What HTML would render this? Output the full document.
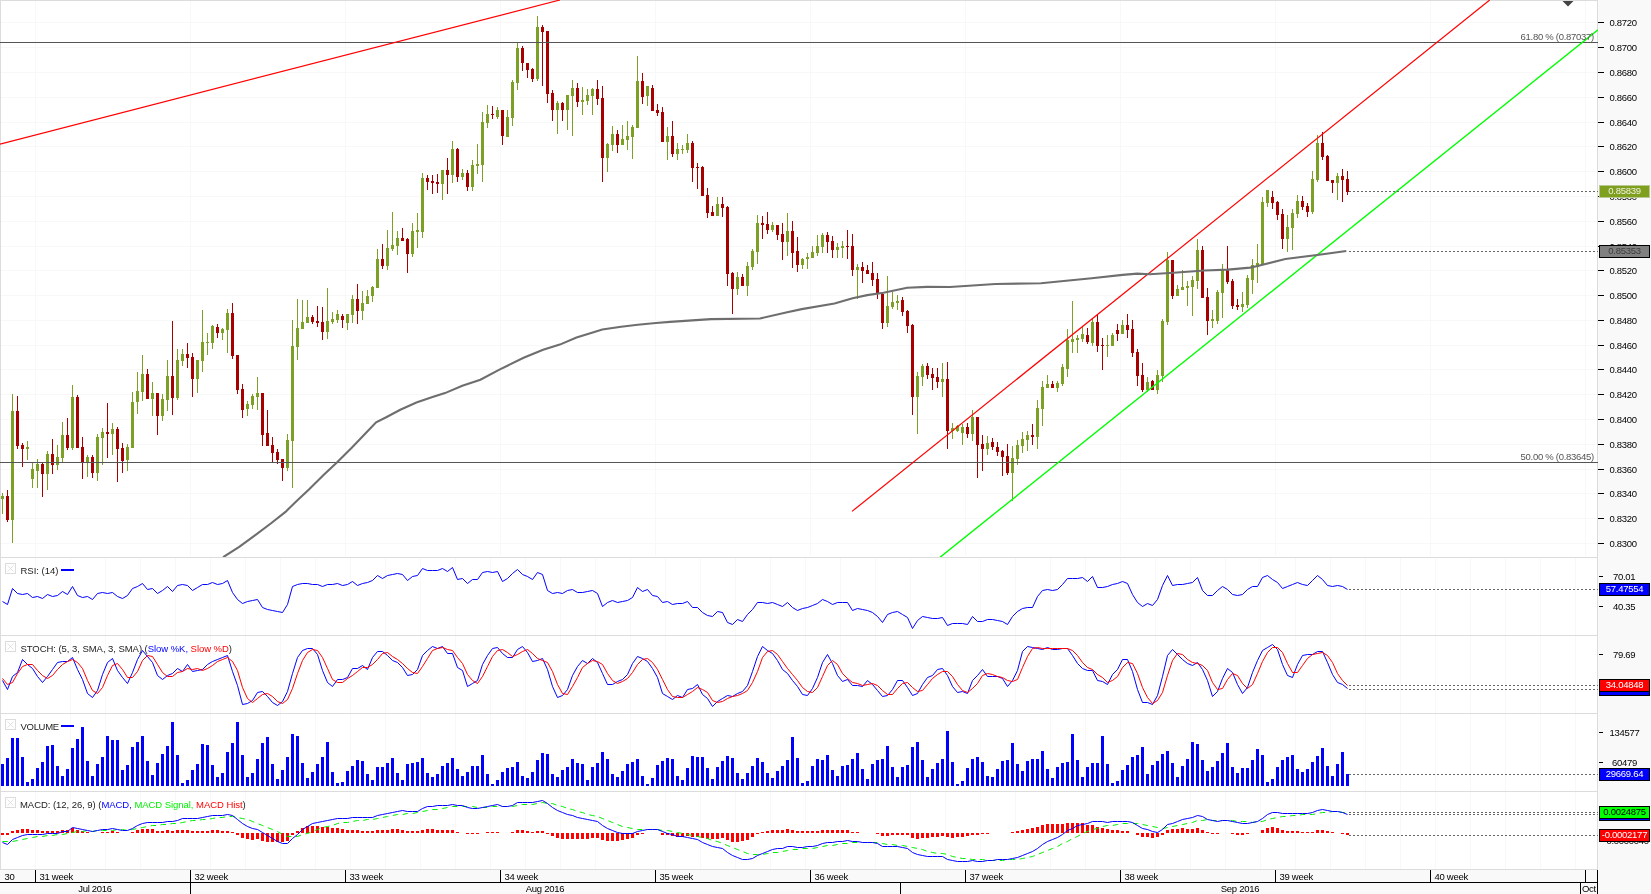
<!DOCTYPE html>
<html><head><meta charset="utf-8"><title>chart</title>
<style>
html,body{margin:0;padding:0;background:#fff;}
body{width:1651px;height:894px;position:relative;overflow:hidden;font-family:"Liberation Sans",sans-serif;font-size:9px;}
.t{position:absolute;white-space:nowrap;line-height:10px;font-size:9.5px;letter-spacing:-0.28px;}
#txt{position:absolute;left:0;top:0;width:1651px;height:894px;will-change:transform;}
.b{position:absolute;left:1599px;width:51px;height:11px;line-height:10px;font-size:9.5px;letter-spacing:-0.28px;text-align:center;box-sizing:border-box;overflow:hidden;white-space:nowrap;height:13px;}
</style></head><body>
<svg width="1651" height="894" viewBox="0 0 1651 894" style="position:absolute;left:0;top:0">
<rect x="0" y="0" width="1651" height="894" fill="#ffffff"/>
<rect x="1598" y="0" width="53" height="894" fill="#f9f9f9"/>
<rect x="0" y="870" width="1598" height="24" fill="#f9f9f9"/>
<g stroke="#f8f8f8" stroke-width="1" shape-rendering="crispEdges"><line x1="0" y1="22.5" x2="1598" y2="22.5"/><line x1="0" y1="47.5" x2="1598" y2="47.5"/><line x1="0" y1="72.5" x2="1598" y2="72.5"/><line x1="0" y1="97.5" x2="1598" y2="97.5"/><line x1="0" y1="122.5" x2="1598" y2="122.5"/><line x1="0" y1="146.5" x2="1598" y2="146.5"/><line x1="0" y1="171.5" x2="1598" y2="171.5"/><line x1="0" y1="196.5" x2="1598" y2="196.5"/><line x1="0" y1="221.5" x2="1598" y2="221.5"/><line x1="0" y1="246.5" x2="1598" y2="246.5"/><line x1="0" y1="270.5" x2="1598" y2="270.5"/><line x1="0" y1="295.5" x2="1598" y2="295.5"/><line x1="0" y1="320.5" x2="1598" y2="320.5"/><line x1="0" y1="345.5" x2="1598" y2="345.5"/><line x1="0" y1="369.5" x2="1598" y2="369.5"/><line x1="0" y1="394.5" x2="1598" y2="394.5"/><line x1="0" y1="419.5" x2="1598" y2="419.5"/><line x1="0" y1="444.5" x2="1598" y2="444.5"/><line x1="0" y1="469.5" x2="1598" y2="469.5"/><line x1="0" y1="493.5" x2="1598" y2="493.5"/><line x1="0" y1="518.5" x2="1598" y2="518.5"/><line x1="0" y1="543.5" x2="1598" y2="543.5"/><line x1="35.5" y1="0" x2="35.5" y2="556"/><line x1="190.5" y1="0" x2="190.5" y2="556"/><line x1="345.5" y1="0" x2="345.5" y2="556"/><line x1="500.5" y1="0" x2="500.5" y2="556"/><line x1="655.5" y1="0" x2="655.5" y2="556"/><line x1="810.5" y1="0" x2="810.5" y2="556"/><line x1="965.5" y1="0" x2="965.5" y2="556"/><line x1="1120.5" y1="0" x2="1120.5" y2="556"/><line x1="1275.5" y1="0" x2="1275.5" y2="556"/><line x1="1430.5" y1="0" x2="1430.5" y2="556"/><line x1="1585.5" y1="0" x2="1585.5" y2="556"/><line x1="35.5" y1="558" x2="35.5" y2="869"/><line x1="70.5" y1="558" x2="70.5" y2="869"/><line x1="105.5" y1="558" x2="105.5" y2="869"/><line x1="140.5" y1="558" x2="140.5" y2="869"/><line x1="175.5" y1="558" x2="175.5" y2="869"/><line x1="210.5" y1="558" x2="210.5" y2="869"/><line x1="245.5" y1="558" x2="245.5" y2="869"/><line x1="280.5" y1="558" x2="280.5" y2="869"/><line x1="315.5" y1="558" x2="315.5" y2="869"/><line x1="350.5" y1="558" x2="350.5" y2="869"/><line x1="385.5" y1="558" x2="385.5" y2="869"/><line x1="420.5" y1="558" x2="420.5" y2="869"/><line x1="455.5" y1="558" x2="455.5" y2="869"/><line x1="490.5" y1="558" x2="490.5" y2="869"/><line x1="525.5" y1="558" x2="525.5" y2="869"/><line x1="560.5" y1="558" x2="560.5" y2="869"/><line x1="595.5" y1="558" x2="595.5" y2="869"/><line x1="630.5" y1="558" x2="630.5" y2="869"/><line x1="665.5" y1="558" x2="665.5" y2="869"/><line x1="700.5" y1="558" x2="700.5" y2="869"/><line x1="735.5" y1="558" x2="735.5" y2="869"/><line x1="770.5" y1="558" x2="770.5" y2="869"/><line x1="805.5" y1="558" x2="805.5" y2="869"/><line x1="840.5" y1="558" x2="840.5" y2="869"/><line x1="875.5" y1="558" x2="875.5" y2="869"/><line x1="910.5" y1="558" x2="910.5" y2="869"/><line x1="945.5" y1="558" x2="945.5" y2="869"/><line x1="980.5" y1="558" x2="980.5" y2="869"/><line x1="1015.5" y1="558" x2="1015.5" y2="869"/><line x1="1050.5" y1="558" x2="1050.5" y2="869"/><line x1="1085.5" y1="558" x2="1085.5" y2="869"/><line x1="1120.5" y1="558" x2="1120.5" y2="869"/><line x1="1155.5" y1="558" x2="1155.5" y2="869"/><line x1="1190.5" y1="558" x2="1190.5" y2="869"/><line x1="1225.5" y1="558" x2="1225.5" y2="869"/><line x1="1260.5" y1="558" x2="1260.5" y2="869"/><line x1="1295.5" y1="558" x2="1295.5" y2="869"/><line x1="1330.5" y1="558" x2="1330.5" y2="869"/><line x1="1365.5" y1="558" x2="1365.5" y2="869"/><line x1="1400.5" y1="558" x2="1400.5" y2="869"/><line x1="1435.5" y1="558" x2="1435.5" y2="869"/><line x1="1470.5" y1="558" x2="1470.5" y2="869"/><line x1="1505.5" y1="558" x2="1505.5" y2="869"/><line x1="1540.5" y1="558" x2="1540.5" y2="869"/><line x1="1575.5" y1="558" x2="1575.5" y2="869"/></g>
<g stroke="#dcdcdc" stroke-width="1" shape-rendering="crispEdges"><line x1="0" y1="0.5" x2="1598" y2="0.5"/><line x1="0" y1="557.5" x2="1598" y2="557.5"/><line x1="0" y1="635.5" x2="1598" y2="635.5"/><line x1="0" y1="713.5" x2="1598" y2="713.5"/><line x1="0" y1="791.5" x2="1598" y2="791.5"/><line x1="0" y1="869.5" x2="1598" y2="869.5"/><line x1="0.5" y1="0" x2="0.5" y2="870"/><line x1="1597.5" y1="0" x2="1597.5" y2="870"/></g>
<g shape-rendering="crispEdges"><rect x="2" y="493" width="1" height="21" fill="#7ca026"/>
<rect x="1" y="496" width="3" height="3" fill="#7ca026"/>
<rect x="7" y="490" width="1" height="32" fill="#a60000"/>
<rect x="6" y="496" width="3" height="24" fill="#a60000"/>
<rect x="12" y="394" width="1" height="149" fill="#7ca026"/>
<rect x="11" y="411" width="3" height="109" fill="#7ca026"/>
<rect x="17" y="396" width="1" height="53" fill="#a60000"/>
<rect x="16" y="411" width="3" height="35" fill="#a60000"/>
<rect x="22" y="443" width="1" height="24" fill="#a60000"/>
<rect x="21" y="445" width="3" height="4" fill="#a60000"/>
<rect x="27" y="441" width="1" height="19" fill="#7ca026"/>
<rect x="26" y="447" width="3" height="2" fill="#7ca026"/>
<rect x="32" y="463" width="1" height="25" fill="#7ca026"/>
<rect x="31" y="469" width="3" height="10" fill="#7ca026"/>
<rect x="37" y="459" width="1" height="29" fill="#7ca026"/>
<rect x="36" y="464" width="3" height="7" fill="#7ca026"/>
<rect x="42" y="463" width="1" height="34" fill="#a60000"/>
<rect x="41" y="464" width="3" height="10" fill="#a60000"/>
<rect x="47" y="451" width="1" height="39" fill="#7ca026"/>
<rect x="46" y="454" width="3" height="20" fill="#7ca026"/>
<rect x="52" y="439" width="1" height="35" fill="#a60000"/>
<rect x="51" y="454" width="3" height="11" fill="#a60000"/>
<rect x="57" y="445" width="1" height="25" fill="#7ca026"/>
<rect x="56" y="457" width="3" height="8" fill="#7ca026"/>
<rect x="62" y="422" width="1" height="40" fill="#7ca026"/>
<rect x="61" y="435" width="3" height="23" fill="#7ca026"/>
<rect x="67" y="418" width="1" height="32" fill="#a60000"/>
<rect x="66" y="435" width="3" height="13" fill="#a60000"/>
<rect x="72" y="385" width="1" height="65" fill="#7ca026"/>
<rect x="71" y="397" width="3" height="51" fill="#7ca026"/>
<rect x="77" y="395" width="1" height="53" fill="#a60000"/>
<rect x="76" y="397" width="3" height="51" fill="#a60000"/>
<rect x="82" y="437" width="1" height="42" fill="#a60000"/>
<rect x="81" y="447" width="3" height="15" fill="#a60000"/>
<rect x="87" y="455" width="1" height="22" fill="#7ca026"/>
<rect x="86" y="457" width="3" height="5" fill="#7ca026"/>
<rect x="92" y="455" width="1" height="23" fill="#a60000"/>
<rect x="91" y="457" width="3" height="16" fill="#a60000"/>
<rect x="97" y="434" width="1" height="47" fill="#7ca026"/>
<rect x="96" y="437" width="3" height="36" fill="#7ca026"/>
<rect x="102" y="428" width="1" height="37" fill="#7ca026"/>
<rect x="101" y="432" width="3" height="6" fill="#7ca026"/>
<rect x="107" y="403" width="1" height="55" fill="#a60000"/>
<rect x="106" y="432" width="3" height="2" fill="#a60000"/>
<rect x="112" y="423" width="1" height="32" fill="#7ca026"/>
<rect x="111" y="429" width="3" height="5" fill="#7ca026"/>
<rect x="117" y="427" width="1" height="55" fill="#a60000"/>
<rect x="116" y="429" width="3" height="20" fill="#a60000"/>
<rect x="122" y="443" width="1" height="30" fill="#a60000"/>
<rect x="121" y="448" width="3" height="13" fill="#a60000"/>
<rect x="127" y="444" width="1" height="27" fill="#7ca026"/>
<rect x="126" y="447" width="3" height="13" fill="#7ca026"/>
<rect x="132" y="392" width="1" height="56" fill="#7ca026"/>
<rect x="131" y="402" width="3" height="46" fill="#7ca026"/>
<rect x="137" y="372" width="1" height="42" fill="#7ca026"/>
<rect x="136" y="391" width="3" height="11" fill="#7ca026"/>
<rect x="142" y="355" width="1" height="46" fill="#7ca026"/>
<rect x="141" y="374" width="3" height="18" fill="#7ca026"/>
<rect x="147" y="369" width="1" height="30" fill="#a60000"/>
<rect x="146" y="374" width="3" height="25" fill="#a60000"/>
<rect x="152" y="382" width="1" height="34" fill="#7ca026"/>
<rect x="151" y="393" width="3" height="6" fill="#7ca026"/>
<rect x="157" y="393" width="1" height="42" fill="#a60000"/>
<rect x="156" y="393" width="3" height="23" fill="#a60000"/>
<rect x="162" y="394" width="1" height="27" fill="#7ca026"/>
<rect x="161" y="399" width="3" height="17" fill="#7ca026"/>
<rect x="167" y="360" width="1" height="51" fill="#7ca026"/>
<rect x="166" y="376" width="3" height="24" fill="#7ca026"/>
<rect x="172" y="321" width="1" height="94" fill="#a60000"/>
<rect x="171" y="376" width="3" height="22" fill="#a60000"/>
<rect x="177" y="349" width="1" height="51" fill="#7ca026"/>
<rect x="176" y="360" width="3" height="38" fill="#7ca026"/>
<rect x="182" y="349" width="1" height="17" fill="#7ca026"/>
<rect x="181" y="354" width="3" height="7" fill="#7ca026"/>
<rect x="187" y="343" width="1" height="25" fill="#a60000"/>
<rect x="186" y="354" width="3" height="4" fill="#a60000"/>
<rect x="192" y="353" width="1" height="44" fill="#a60000"/>
<rect x="191" y="357" width="3" height="22" fill="#a60000"/>
<rect x="197" y="360" width="1" height="33" fill="#7ca026"/>
<rect x="196" y="360" width="3" height="19" fill="#7ca026"/>
<rect x="202" y="310" width="1" height="62" fill="#7ca026"/>
<rect x="201" y="342" width="3" height="19" fill="#7ca026"/>
<rect x="207" y="333" width="1" height="22" fill="#7ca026"/>
<rect x="206" y="342" width="3" height="1" fill="#7ca026"/>
<rect x="212" y="325" width="1" height="24" fill="#7ca026"/>
<rect x="211" y="326" width="3" height="17" fill="#7ca026"/>
<rect x="217" y="324" width="1" height="14" fill="#a60000"/>
<rect x="216" y="327" width="3" height="6" fill="#a60000"/>
<rect x="222" y="328" width="1" height="12" fill="#7ca026"/>
<rect x="221" y="329" width="3" height="4" fill="#7ca026"/>
<rect x="227" y="309" width="1" height="44" fill="#7ca026"/>
<rect x="226" y="313" width="3" height="17" fill="#7ca026"/>
<rect x="232" y="303" width="1" height="56" fill="#a60000"/>
<rect x="231" y="313" width="3" height="43" fill="#a60000"/>
<rect x="237" y="355" width="1" height="39" fill="#a60000"/>
<rect x="236" y="355" width="3" height="35" fill="#a60000"/>
<rect x="242" y="384" width="1" height="34" fill="#a60000"/>
<rect x="241" y="389" width="3" height="21" fill="#a60000"/>
<rect x="247" y="401" width="1" height="15" fill="#7ca026"/>
<rect x="246" y="404" width="3" height="5" fill="#7ca026"/>
<rect x="252" y="394" width="1" height="15" fill="#7ca026"/>
<rect x="251" y="396" width="3" height="9" fill="#7ca026"/>
<rect x="257" y="377" width="1" height="33" fill="#7ca026"/>
<rect x="256" y="393" width="3" height="4" fill="#7ca026"/>
<rect x="262" y="393" width="1" height="53" fill="#a60000"/>
<rect x="261" y="393" width="3" height="42" fill="#a60000"/>
<rect x="267" y="410" width="1" height="36" fill="#a60000"/>
<rect x="266" y="433" width="3" height="13" fill="#a60000"/>
<rect x="272" y="437" width="1" height="25" fill="#a60000"/>
<rect x="271" y="445" width="3" height="8" fill="#a60000"/>
<rect x="277" y="449" width="1" height="15" fill="#a60000"/>
<rect x="276" y="452" width="3" height="8" fill="#a60000"/>
<rect x="282" y="459" width="1" height="22" fill="#a60000"/>
<rect x="281" y="459" width="3" height="9" fill="#a60000"/>
<rect x="287" y="434" width="1" height="37" fill="#7ca026"/>
<rect x="286" y="440" width="3" height="28" fill="#7ca026"/>
<rect x="292" y="320" width="1" height="168" fill="#7ca026"/>
<rect x="291" y="346" width="3" height="95" fill="#7ca026"/>
<rect x="297" y="299" width="1" height="61" fill="#7ca026"/>
<rect x="296" y="328" width="3" height="19" fill="#7ca026"/>
<rect x="302" y="300" width="1" height="29" fill="#7ca026"/>
<rect x="301" y="322" width="3" height="7" fill="#7ca026"/>
<rect x="307" y="300" width="1" height="23" fill="#7ca026"/>
<rect x="306" y="317" width="3" height="6" fill="#7ca026"/>
<rect x="312" y="315" width="1" height="9" fill="#a60000"/>
<rect x="311" y="317" width="3" height="5" fill="#a60000"/>
<rect x="317" y="306" width="1" height="21" fill="#a60000"/>
<rect x="316" y="321" width="3" height="2" fill="#a60000"/>
<rect x="322" y="307" width="1" height="33" fill="#a60000"/>
<rect x="321" y="322" width="3" height="10" fill="#a60000"/>
<rect x="327" y="288" width="1" height="51" fill="#7ca026"/>
<rect x="326" y="321" width="3" height="11" fill="#7ca026"/>
<rect x="332" y="312" width="1" height="12" fill="#7ca026"/>
<rect x="331" y="319" width="3" height="3" fill="#7ca026"/>
<rect x="337" y="310" width="1" height="13" fill="#7ca026"/>
<rect x="336" y="314" width="3" height="6" fill="#7ca026"/>
<rect x="342" y="314" width="1" height="14" fill="#a60000"/>
<rect x="341" y="316" width="3" height="4" fill="#a60000"/>
<rect x="347" y="314" width="1" height="16" fill="#7ca026"/>
<rect x="346" y="314" width="3" height="9" fill="#7ca026"/>
<rect x="352" y="295" width="1" height="28" fill="#7ca026"/>
<rect x="351" y="299" width="3" height="16" fill="#7ca026"/>
<rect x="357" y="284" width="1" height="40" fill="#a60000"/>
<rect x="356" y="299" width="3" height="12" fill="#a60000"/>
<rect x="362" y="291" width="1" height="29" fill="#7ca026"/>
<rect x="361" y="303" width="3" height="8" fill="#7ca026"/>
<rect x="367" y="290" width="1" height="14" fill="#7ca026"/>
<rect x="366" y="296" width="3" height="8" fill="#7ca026"/>
<rect x="372" y="286" width="1" height="16" fill="#7ca026"/>
<rect x="371" y="287" width="3" height="9" fill="#7ca026"/>
<rect x="377" y="249" width="1" height="39" fill="#7ca026"/>
<rect x="376" y="259" width="3" height="29" fill="#7ca026"/>
<rect x="382" y="244" width="1" height="25" fill="#a60000"/>
<rect x="381" y="259" width="3" height="7" fill="#a60000"/>
<rect x="387" y="230" width="1" height="40" fill="#7ca026"/>
<rect x="386" y="248" width="3" height="18" fill="#7ca026"/>
<rect x="392" y="212" width="1" height="39" fill="#7ca026"/>
<rect x="391" y="245" width="3" height="4" fill="#7ca026"/>
<rect x="397" y="231" width="1" height="24" fill="#7ca026"/>
<rect x="396" y="238" width="3" height="8" fill="#7ca026"/>
<rect x="402" y="228" width="1" height="13" fill="#a60000"/>
<rect x="401" y="238" width="3" height="3" fill="#a60000"/>
<rect x="407" y="238" width="1" height="35" fill="#a60000"/>
<rect x="406" y="239" width="3" height="15" fill="#a60000"/>
<rect x="412" y="223" width="1" height="34" fill="#7ca026"/>
<rect x="411" y="231" width="3" height="23" fill="#7ca026"/>
<rect x="417" y="213" width="1" height="35" fill="#7ca026"/>
<rect x="416" y="230" width="3" height="2" fill="#7ca026"/>
<rect x="422" y="173" width="1" height="65" fill="#7ca026"/>
<rect x="421" y="178" width="3" height="54" fill="#7ca026"/>
<rect x="427" y="175" width="1" height="15" fill="#a60000"/>
<rect x="426" y="178" width="3" height="4" fill="#a60000"/>
<rect x="432" y="175" width="1" height="19" fill="#a60000"/>
<rect x="431" y="181" width="3" height="2" fill="#a60000"/>
<rect x="437" y="174" width="1" height="19" fill="#a60000"/>
<rect x="436" y="182" width="3" height="2" fill="#a60000"/>
<rect x="442" y="170" width="1" height="30" fill="#7ca026"/>
<rect x="441" y="170" width="3" height="14" fill="#7ca026"/>
<rect x="447" y="158" width="1" height="36" fill="#a60000"/>
<rect x="446" y="170" width="3" height="5" fill="#a60000"/>
<rect x="452" y="141" width="1" height="42" fill="#7ca026"/>
<rect x="451" y="149" width="3" height="26" fill="#7ca026"/>
<rect x="457" y="148" width="1" height="34" fill="#a60000"/>
<rect x="456" y="149" width="3" height="28" fill="#a60000"/>
<rect x="462" y="169" width="1" height="11" fill="#7ca026"/>
<rect x="461" y="173" width="3" height="4" fill="#7ca026"/>
<rect x="467" y="170" width="1" height="21" fill="#a60000"/>
<rect x="466" y="173" width="3" height="14" fill="#a60000"/>
<rect x="472" y="160" width="1" height="31" fill="#7ca026"/>
<rect x="471" y="165" width="3" height="22" fill="#7ca026"/>
<rect x="477" y="144" width="1" height="30" fill="#7ca026"/>
<rect x="476" y="164" width="3" height="2" fill="#7ca026"/>
<rect x="482" y="112" width="1" height="70" fill="#7ca026"/>
<rect x="481" y="122" width="3" height="43" fill="#7ca026"/>
<rect x="487" y="105" width="1" height="23" fill="#7ca026"/>
<rect x="486" y="114" width="3" height="9" fill="#7ca026"/>
<rect x="492" y="106" width="1" height="13" fill="#a60000"/>
<rect x="491" y="114" width="3" height="1" fill="#a60000"/>
<rect x="497" y="107" width="1" height="12" fill="#7ca026"/>
<rect x="496" y="110" width="3" height="7" fill="#7ca026"/>
<rect x="502" y="110" width="1" height="35" fill="#a60000"/>
<rect x="501" y="110" width="3" height="26" fill="#a60000"/>
<rect x="507" y="110" width="1" height="27" fill="#7ca026"/>
<rect x="506" y="117" width="3" height="20" fill="#7ca026"/>
<rect x="512" y="80" width="1" height="46" fill="#7ca026"/>
<rect x="511" y="82" width="3" height="36" fill="#7ca026"/>
<rect x="517" y="43" width="1" height="47" fill="#7ca026"/>
<rect x="516" y="48" width="3" height="35" fill="#7ca026"/>
<rect x="522" y="46" width="1" height="25" fill="#a60000"/>
<rect x="521" y="48" width="3" height="15" fill="#a60000"/>
<rect x="527" y="63" width="1" height="15" fill="#a60000"/>
<rect x="526" y="63" width="3" height="7" fill="#a60000"/>
<rect x="532" y="68" width="1" height="14" fill="#a60000"/>
<rect x="531" y="69" width="3" height="10" fill="#a60000"/>
<rect x="537" y="16" width="1" height="65" fill="#7ca026"/>
<rect x="536" y="27" width="3" height="52" fill="#7ca026"/>
<rect x="542" y="25" width="1" height="61" fill="#a60000"/>
<rect x="541" y="27" width="3" height="5" fill="#a60000"/>
<rect x="547" y="31" width="1" height="72" fill="#a60000"/>
<rect x="546" y="31" width="3" height="63" fill="#a60000"/>
<rect x="552" y="90" width="1" height="31" fill="#a60000"/>
<rect x="551" y="93" width="3" height="17" fill="#a60000"/>
<rect x="557" y="101" width="1" height="33" fill="#7ca026"/>
<rect x="556" y="103" width="3" height="7" fill="#7ca026"/>
<rect x="562" y="102" width="1" height="19" fill="#a60000"/>
<rect x="561" y="103" width="3" height="7" fill="#a60000"/>
<rect x="567" y="95" width="1" height="35" fill="#7ca026"/>
<rect x="566" y="95" width="3" height="15" fill="#7ca026"/>
<rect x="572" y="80" width="1" height="56" fill="#7ca026"/>
<rect x="571" y="88" width="3" height="8" fill="#7ca026"/>
<rect x="577" y="83" width="1" height="24" fill="#a60000"/>
<rect x="576" y="88" width="3" height="14" fill="#a60000"/>
<rect x="582" y="87" width="1" height="28" fill="#7ca026"/>
<rect x="581" y="100" width="3" height="2" fill="#7ca026"/>
<rect x="587" y="89" width="1" height="16" fill="#7ca026"/>
<rect x="586" y="95" width="3" height="6" fill="#7ca026"/>
<rect x="592" y="88" width="1" height="27" fill="#7ca026"/>
<rect x="591" y="89" width="3" height="7" fill="#7ca026"/>
<rect x="597" y="80" width="1" height="25" fill="#a60000"/>
<rect x="596" y="89" width="3" height="10" fill="#a60000"/>
<rect x="602" y="86" width="1" height="96" fill="#a60000"/>
<rect x="601" y="98" width="3" height="60" fill="#a60000"/>
<rect x="607" y="143" width="1" height="29" fill="#7ca026"/>
<rect x="606" y="144" width="3" height="14" fill="#7ca026"/>
<rect x="612" y="126" width="1" height="25" fill="#7ca026"/>
<rect x="611" y="134" width="3" height="11" fill="#7ca026"/>
<rect x="617" y="130" width="1" height="23" fill="#a60000"/>
<rect x="616" y="134" width="3" height="11" fill="#a60000"/>
<rect x="622" y="125" width="1" height="20" fill="#7ca026"/>
<rect x="621" y="139" width="3" height="6" fill="#7ca026"/>
<rect x="627" y="121" width="1" height="29" fill="#7ca026"/>
<rect x="626" y="136" width="3" height="4" fill="#7ca026"/>
<rect x="632" y="125" width="1" height="34" fill="#7ca026"/>
<rect x="631" y="127" width="3" height="10" fill="#7ca026"/>
<rect x="637" y="56" width="1" height="72" fill="#7ca026"/>
<rect x="636" y="81" width="3" height="47" fill="#7ca026"/>
<rect x="642" y="73" width="1" height="31" fill="#a60000"/>
<rect x="641" y="81" width="3" height="16" fill="#a60000"/>
<rect x="647" y="86" width="1" height="20" fill="#7ca026"/>
<rect x="646" y="86" width="3" height="10" fill="#7ca026"/>
<rect x="652" y="85" width="1" height="26" fill="#a60000"/>
<rect x="651" y="88" width="3" height="23" fill="#a60000"/>
<rect x="657" y="104" width="1" height="12" fill="#a60000"/>
<rect x="656" y="110" width="3" height="3" fill="#a60000"/>
<rect x="662" y="107" width="1" height="35" fill="#a60000"/>
<rect x="661" y="112" width="3" height="30" fill="#a60000"/>
<rect x="667" y="127" width="1" height="33" fill="#7ca026"/>
<rect x="666" y="136" width="3" height="6" fill="#7ca026"/>
<rect x="672" y="121" width="1" height="36" fill="#a60000"/>
<rect x="671" y="136" width="3" height="18" fill="#a60000"/>
<rect x="677" y="143" width="1" height="17" fill="#7ca026"/>
<rect x="676" y="149" width="3" height="5" fill="#7ca026"/>
<rect x="682" y="145" width="1" height="9" fill="#7ca026"/>
<rect x="681" y="149" width="3" height="1" fill="#7ca026"/>
<rect x="687" y="134" width="1" height="19" fill="#7ca026"/>
<rect x="686" y="143" width="3" height="7" fill="#7ca026"/>
<rect x="692" y="141" width="1" height="41" fill="#a60000"/>
<rect x="691" y="143" width="3" height="25" fill="#a60000"/>
<rect x="697" y="163" width="1" height="26" fill="#a60000"/>
<rect x="696" y="167" width="3" height="1" fill="#a60000"/>
<rect x="702" y="166" width="1" height="30" fill="#a60000"/>
<rect x="701" y="167" width="3" height="29" fill="#a60000"/>
<rect x="707" y="188" width="1" height="30" fill="#a60000"/>
<rect x="706" y="195" width="3" height="18" fill="#a60000"/>
<rect x="712" y="206" width="1" height="10" fill="#a60000"/>
<rect x="711" y="212" width="3" height="4" fill="#a60000"/>
<rect x="717" y="197" width="1" height="19" fill="#7ca026"/>
<rect x="716" y="204" width="3" height="12" fill="#7ca026"/>
<rect x="722" y="197" width="1" height="20" fill="#a60000"/>
<rect x="721" y="204" width="3" height="4" fill="#a60000"/>
<rect x="727" y="206" width="1" height="80" fill="#a60000"/>
<rect x="726" y="207" width="3" height="67" fill="#a60000"/>
<rect x="732" y="272" width="1" height="42" fill="#a60000"/>
<rect x="731" y="273" width="3" height="16" fill="#a60000"/>
<rect x="737" y="272" width="1" height="23" fill="#7ca026"/>
<rect x="736" y="277" width="3" height="12" fill="#7ca026"/>
<rect x="742" y="274" width="1" height="12" fill="#a60000"/>
<rect x="741" y="277" width="3" height="9" fill="#a60000"/>
<rect x="747" y="262" width="1" height="34" fill="#7ca026"/>
<rect x="746" y="266" width="3" height="20" fill="#7ca026"/>
<rect x="752" y="249" width="1" height="21" fill="#7ca026"/>
<rect x="751" y="251" width="3" height="16" fill="#7ca026"/>
<rect x="757" y="215" width="1" height="49" fill="#7ca026"/>
<rect x="756" y="223" width="3" height="29" fill="#7ca026"/>
<rect x="762" y="216" width="1" height="23" fill="#a60000"/>
<rect x="761" y="223" width="3" height="2" fill="#a60000"/>
<rect x="767" y="212" width="1" height="22" fill="#a60000"/>
<rect x="766" y="224" width="3" height="6" fill="#a60000"/>
<rect x="772" y="222" width="1" height="10" fill="#7ca026"/>
<rect x="771" y="225" width="3" height="5" fill="#7ca026"/>
<rect x="777" y="225" width="1" height="15" fill="#a60000"/>
<rect x="776" y="225" width="3" height="10" fill="#a60000"/>
<rect x="782" y="223" width="1" height="37" fill="#a60000"/>
<rect x="781" y="234" width="3" height="8" fill="#a60000"/>
<rect x="787" y="213" width="1" height="43" fill="#7ca026"/>
<rect x="786" y="231" width="3" height="11" fill="#7ca026"/>
<rect x="792" y="221" width="1" height="47" fill="#a60000"/>
<rect x="791" y="231" width="3" height="22" fill="#a60000"/>
<rect x="797" y="237" width="1" height="35" fill="#a60000"/>
<rect x="796" y="251" width="3" height="14" fill="#a60000"/>
<rect x="802" y="258" width="1" height="11" fill="#7ca026"/>
<rect x="801" y="259" width="3" height="6" fill="#7ca026"/>
<rect x="807" y="253" width="1" height="16" fill="#7ca026"/>
<rect x="806" y="257" width="3" height="2" fill="#7ca026"/>
<rect x="812" y="246" width="1" height="12" fill="#7ca026"/>
<rect x="811" y="252" width="3" height="6" fill="#7ca026"/>
<rect x="817" y="235" width="1" height="21" fill="#7ca026"/>
<rect x="816" y="246" width="3" height="7" fill="#7ca026"/>
<rect x="822" y="233" width="1" height="20" fill="#7ca026"/>
<rect x="821" y="235" width="3" height="12" fill="#7ca026"/>
<rect x="827" y="232" width="1" height="21" fill="#a60000"/>
<rect x="826" y="235" width="3" height="7" fill="#a60000"/>
<rect x="832" y="236" width="1" height="22" fill="#a60000"/>
<rect x="831" y="241" width="3" height="9" fill="#a60000"/>
<rect x="837" y="243" width="1" height="15" fill="#7ca026"/>
<rect x="836" y="247" width="3" height="3" fill="#7ca026"/>
<rect x="842" y="241" width="1" height="17" fill="#7ca026"/>
<rect x="841" y="246" width="3" height="2" fill="#7ca026"/>
<rect x="847" y="230" width="1" height="29" fill="#a60000"/>
<rect x="846" y="246" width="3" height="1" fill="#a60000"/>
<rect x="852" y="234" width="1" height="42" fill="#a60000"/>
<rect x="851" y="246" width="3" height="24" fill="#a60000"/>
<rect x="857" y="264" width="1" height="35" fill="#7ca026"/>
<rect x="856" y="267" width="3" height="3" fill="#7ca026"/>
<rect x="862" y="262" width="1" height="21" fill="#a60000"/>
<rect x="861" y="267" width="3" height="4" fill="#a60000"/>
<rect x="867" y="265" width="1" height="9" fill="#a60000"/>
<rect x="866" y="270" width="3" height="4" fill="#a60000"/>
<rect x="872" y="262" width="1" height="24" fill="#a60000"/>
<rect x="871" y="273" width="3" height="7" fill="#a60000"/>
<rect x="877" y="273" width="1" height="26" fill="#a60000"/>
<rect x="876" y="279" width="3" height="15" fill="#a60000"/>
<rect x="882" y="293" width="1" height="36" fill="#a60000"/>
<rect x="881" y="294" width="3" height="29" fill="#a60000"/>
<rect x="887" y="276" width="1" height="51" fill="#7ca026"/>
<rect x="886" y="306" width="3" height="17" fill="#7ca026"/>
<rect x="892" y="292" width="1" height="17" fill="#7ca026"/>
<rect x="891" y="302" width="3" height="5" fill="#7ca026"/>
<rect x="897" y="295" width="1" height="15" fill="#7ca026"/>
<rect x="896" y="301" width="3" height="2" fill="#7ca026"/>
<rect x="902" y="297" width="1" height="19" fill="#a60000"/>
<rect x="901" y="300" width="3" height="12" fill="#a60000"/>
<rect x="907" y="310" width="1" height="23" fill="#a60000"/>
<rect x="906" y="311" width="3" height="15" fill="#a60000"/>
<rect x="912" y="324" width="1" height="91" fill="#a60000"/>
<rect x="911" y="325" width="3" height="72" fill="#a60000"/>
<rect x="917" y="372" width="1" height="62" fill="#7ca026"/>
<rect x="916" y="376" width="3" height="21" fill="#7ca026"/>
<rect x="922" y="364" width="1" height="22" fill="#7ca026"/>
<rect x="921" y="366" width="3" height="11" fill="#7ca026"/>
<rect x="927" y="363" width="1" height="16" fill="#a60000"/>
<rect x="926" y="366" width="3" height="9" fill="#a60000"/>
<rect x="932" y="368" width="1" height="22" fill="#a60000"/>
<rect x="931" y="374" width="3" height="4" fill="#a60000"/>
<rect x="937" y="368" width="1" height="20" fill="#a60000"/>
<rect x="936" y="377" width="3" height="5" fill="#a60000"/>
<rect x="942" y="363" width="1" height="34" fill="#7ca026"/>
<rect x="941" y="379" width="3" height="3" fill="#7ca026"/>
<rect x="947" y="362" width="1" height="87" fill="#a60000"/>
<rect x="946" y="379" width="3" height="52" fill="#a60000"/>
<rect x="952" y="423" width="1" height="16" fill="#7ca026"/>
<rect x="951" y="428" width="3" height="3" fill="#7ca026"/>
<rect x="957" y="425" width="1" height="7" fill="#7ca026"/>
<rect x="956" y="426" width="3" height="5" fill="#7ca026"/>
<rect x="962" y="424" width="1" height="21" fill="#7ca026"/>
<rect x="961" y="427" width="3" height="6" fill="#7ca026"/>
<rect x="967" y="423" width="1" height="15" fill="#a60000"/>
<rect x="966" y="427" width="3" height="7" fill="#a60000"/>
<rect x="972" y="410" width="1" height="31" fill="#7ca026"/>
<rect x="971" y="417" width="3" height="17" fill="#7ca026"/>
<rect x="977" y="417" width="1" height="61" fill="#a60000"/>
<rect x="976" y="417" width="3" height="28" fill="#a60000"/>
<rect x="982" y="435" width="1" height="36" fill="#a60000"/>
<rect x="981" y="444" width="3" height="5" fill="#a60000"/>
<rect x="987" y="436" width="1" height="19" fill="#7ca026"/>
<rect x="986" y="443" width="3" height="6" fill="#7ca026"/>
<rect x="992" y="438" width="1" height="12" fill="#a60000"/>
<rect x="991" y="442" width="3" height="5" fill="#a60000"/>
<rect x="997" y="442" width="1" height="14" fill="#a60000"/>
<rect x="996" y="447" width="3" height="5" fill="#a60000"/>
<rect x="1002" y="450" width="1" height="26" fill="#a60000"/>
<rect x="1001" y="451" width="3" height="6" fill="#a60000"/>
<rect x="1007" y="444" width="1" height="31" fill="#a60000"/>
<rect x="1006" y="456" width="3" height="17" fill="#a60000"/>
<rect x="1012" y="446" width="1" height="55" fill="#7ca026"/>
<rect x="1011" y="458" width="3" height="15" fill="#7ca026"/>
<rect x="1017" y="440" width="1" height="25" fill="#7ca026"/>
<rect x="1016" y="445" width="3" height="14" fill="#7ca026"/>
<rect x="1022" y="432" width="1" height="21" fill="#7ca026"/>
<rect x="1021" y="439" width="3" height="7" fill="#7ca026"/>
<rect x="1027" y="431" width="1" height="20" fill="#7ca026"/>
<rect x="1026" y="435" width="3" height="5" fill="#7ca026"/>
<rect x="1032" y="424" width="1" height="21" fill="#a60000"/>
<rect x="1031" y="435" width="3" height="2" fill="#a60000"/>
<rect x="1037" y="400" width="1" height="49" fill="#7ca026"/>
<rect x="1036" y="408" width="3" height="29" fill="#7ca026"/>
<rect x="1042" y="381" width="1" height="45" fill="#7ca026"/>
<rect x="1041" y="387" width="3" height="22" fill="#7ca026"/>
<rect x="1047" y="375" width="1" height="13" fill="#7ca026"/>
<rect x="1046" y="384" width="3" height="4" fill="#7ca026"/>
<rect x="1052" y="381" width="1" height="7" fill="#a60000"/>
<rect x="1051" y="384" width="3" height="4" fill="#a60000"/>
<rect x="1057" y="381" width="1" height="11" fill="#7ca026"/>
<rect x="1056" y="383" width="3" height="5" fill="#7ca026"/>
<rect x="1062" y="364" width="1" height="22" fill="#7ca026"/>
<rect x="1061" y="367" width="3" height="17" fill="#7ca026"/>
<rect x="1067" y="329" width="1" height="48" fill="#7ca026"/>
<rect x="1066" y="340" width="3" height="29" fill="#7ca026"/>
<rect x="1072" y="301" width="1" height="52" fill="#7ca026"/>
<rect x="1071" y="339" width="3" height="3" fill="#7ca026"/>
<rect x="1077" y="335" width="1" height="18" fill="#7ca026"/>
<rect x="1076" y="338" width="3" height="2" fill="#7ca026"/>
<rect x="1082" y="327" width="1" height="15" fill="#7ca026"/>
<rect x="1081" y="334" width="3" height="5" fill="#7ca026"/>
<rect x="1087" y="328" width="1" height="16" fill="#a60000"/>
<rect x="1086" y="335" width="3" height="7" fill="#a60000"/>
<rect x="1092" y="318" width="1" height="28" fill="#7ca026"/>
<rect x="1091" y="322" width="3" height="21" fill="#7ca026"/>
<rect x="1097" y="314" width="1" height="38" fill="#a60000"/>
<rect x="1096" y="322" width="3" height="24" fill="#a60000"/>
<rect x="1102" y="338" width="1" height="32" fill="#a60000"/>
<rect x="1101" y="345" width="3" height="1" fill="#a60000"/>
<rect x="1107" y="335" width="1" height="22" fill="#7ca026"/>
<rect x="1106" y="345" width="3" height="1" fill="#7ca026"/>
<rect x="1112" y="333" width="1" height="13" fill="#7ca026"/>
<rect x="1111" y="335" width="3" height="11" fill="#7ca026"/>
<rect x="1117" y="324" width="1" height="17" fill="#a60000"/>
<rect x="1116" y="330" width="3" height="4" fill="#a60000"/>
<rect x="1122" y="320" width="1" height="14" fill="#7ca026"/>
<rect x="1121" y="325" width="3" height="9" fill="#7ca026"/>
<rect x="1127" y="314" width="1" height="24" fill="#a60000"/>
<rect x="1126" y="325" width="3" height="5" fill="#a60000"/>
<rect x="1132" y="320" width="1" height="37" fill="#a60000"/>
<rect x="1131" y="329" width="3" height="24" fill="#a60000"/>
<rect x="1137" y="349" width="1" height="37" fill="#a60000"/>
<rect x="1136" y="352" width="3" height="24" fill="#a60000"/>
<rect x="1142" y="363" width="1" height="29" fill="#a60000"/>
<rect x="1141" y="375" width="3" height="15" fill="#a60000"/>
<rect x="1147" y="377" width="1" height="15" fill="#7ca026"/>
<rect x="1146" y="382" width="3" height="8" fill="#7ca026"/>
<rect x="1152" y="380" width="1" height="10" fill="#a60000"/>
<rect x="1151" y="381" width="3" height="9" fill="#a60000"/>
<rect x="1157" y="370" width="1" height="24" fill="#7ca026"/>
<rect x="1156" y="375" width="3" height="15" fill="#7ca026"/>
<rect x="1162" y="319" width="1" height="63" fill="#7ca026"/>
<rect x="1161" y="321" width="3" height="55" fill="#7ca026"/>
<rect x="1167" y="252" width="1" height="73" fill="#7ca026"/>
<rect x="1166" y="260" width="3" height="62" fill="#7ca026"/>
<rect x="1172" y="260" width="1" height="39" fill="#a60000"/>
<rect x="1171" y="260" width="3" height="36" fill="#a60000"/>
<rect x="1177" y="285" width="1" height="11" fill="#7ca026"/>
<rect x="1176" y="289" width="3" height="7" fill="#7ca026"/>
<rect x="1182" y="270" width="1" height="20" fill="#7ca026"/>
<rect x="1181" y="287" width="3" height="3" fill="#7ca026"/>
<rect x="1187" y="281" width="1" height="25" fill="#7ca026"/>
<rect x="1186" y="286" width="3" height="2" fill="#7ca026"/>
<rect x="1192" y="276" width="1" height="40" fill="#7ca026"/>
<rect x="1191" y="280" width="3" height="7" fill="#7ca026"/>
<rect x="1197" y="239" width="1" height="50" fill="#7ca026"/>
<rect x="1196" y="250" width="3" height="31" fill="#7ca026"/>
<rect x="1202" y="246" width="1" height="52" fill="#a60000"/>
<rect x="1201" y="250" width="3" height="48" fill="#a60000"/>
<rect x="1207" y="288" width="1" height="47" fill="#a60000"/>
<rect x="1206" y="297" width="3" height="24" fill="#a60000"/>
<rect x="1212" y="310" width="1" height="18" fill="#7ca026"/>
<rect x="1211" y="319" width="3" height="2" fill="#7ca026"/>
<rect x="1217" y="290" width="1" height="34" fill="#7ca026"/>
<rect x="1216" y="292" width="3" height="29" fill="#7ca026"/>
<rect x="1222" y="264" width="1" height="54" fill="#7ca026"/>
<rect x="1221" y="270" width="3" height="23" fill="#7ca026"/>
<rect x="1227" y="246" width="1" height="38" fill="#a60000"/>
<rect x="1226" y="270" width="3" height="12" fill="#a60000"/>
<rect x="1232" y="279" width="1" height="30" fill="#a60000"/>
<rect x="1231" y="281" width="3" height="25" fill="#a60000"/>
<rect x="1237" y="299" width="1" height="11" fill="#a60000"/>
<rect x="1236" y="305" width="3" height="2" fill="#a60000"/>
<rect x="1242" y="292" width="1" height="20" fill="#7ca026"/>
<rect x="1241" y="304" width="3" height="3" fill="#7ca026"/>
<rect x="1247" y="275" width="1" height="33" fill="#7ca026"/>
<rect x="1246" y="278" width="3" height="27" fill="#7ca026"/>
<rect x="1252" y="259" width="1" height="35" fill="#7ca026"/>
<rect x="1251" y="265" width="3" height="15" fill="#7ca026"/>
<rect x="1257" y="244" width="1" height="39" fill="#7ca026"/>
<rect x="1256" y="263" width="3" height="4" fill="#7ca026"/>
<rect x="1262" y="197" width="1" height="68" fill="#7ca026"/>
<rect x="1261" y="202" width="3" height="62" fill="#7ca026"/>
<rect x="1267" y="190" width="1" height="17" fill="#7ca026"/>
<rect x="1266" y="190" width="3" height="13" fill="#7ca026"/>
<rect x="1272" y="191" width="1" height="18" fill="#a60000"/>
<rect x="1271" y="197" width="3" height="6" fill="#a60000"/>
<rect x="1277" y="201" width="1" height="19" fill="#a60000"/>
<rect x="1276" y="202" width="3" height="13" fill="#a60000"/>
<rect x="1282" y="209" width="1" height="40" fill="#a60000"/>
<rect x="1281" y="214" width="3" height="25" fill="#a60000"/>
<rect x="1287" y="215" width="1" height="37" fill="#7ca026"/>
<rect x="1286" y="227" width="3" height="12" fill="#7ca026"/>
<rect x="1292" y="209" width="1" height="41" fill="#7ca026"/>
<rect x="1291" y="213" width="3" height="15" fill="#7ca026"/>
<rect x="1297" y="195" width="1" height="23" fill="#7ca026"/>
<rect x="1296" y="201" width="3" height="13" fill="#7ca026"/>
<rect x="1302" y="196" width="1" height="14" fill="#a60000"/>
<rect x="1301" y="201" width="3" height="6" fill="#a60000"/>
<rect x="1307" y="203" width="1" height="14" fill="#a60000"/>
<rect x="1306" y="206" width="3" height="6" fill="#a60000"/>
<rect x="1312" y="171" width="1" height="43" fill="#7ca026"/>
<rect x="1311" y="179" width="3" height="33" fill="#7ca026"/>
<rect x="1317" y="135" width="1" height="47" fill="#7ca026"/>
<rect x="1316" y="143" width="3" height="37" fill="#7ca026"/>
<rect x="1322" y="132" width="1" height="28" fill="#a60000"/>
<rect x="1321" y="143" width="3" height="14" fill="#a60000"/>
<rect x="1327" y="155" width="1" height="26" fill="#a60000"/>
<rect x="1326" y="156" width="3" height="25" fill="#a60000"/>
<rect x="1332" y="180" width="1" height="13" fill="#a60000"/>
<rect x="1331" y="180" width="3" height="3" fill="#a60000"/>
<rect x="1337" y="173" width="1" height="27" fill="#7ca026"/>
<rect x="1336" y="176" width="3" height="7" fill="#7ca026"/>
<rect x="1342" y="169" width="1" height="33" fill="#a60000"/>
<rect x="1341" y="176" width="3" height="4" fill="#a60000"/>
<rect x="1347" y="171" width="1" height="24" fill="#a60000"/>
<rect x="1346" y="179" width="3" height="13" fill="#a60000"/></g>
<line x1="0" y1="42.5" x2="1598" y2="42.5" stroke="#555555" stroke-width="1" shape-rendering="crispEdges"/>
<line x1="0" y1="462.5" x2="1598" y2="462.5" stroke="#555555" stroke-width="1" shape-rendering="crispEdges"/>
<g clip-path="url(#cpMain)">
<line x1="0" y1="144.1" x2="560" y2="0" stroke="#ff0000" stroke-width="1.2"/>
<line x1="852" y1="511.4" x2="1489.7" y2="0" stroke="#ff0000" stroke-width="1.2"/>
<line x1="940" y1="557.3" x2="1598" y2="29.9" stroke="#00ff00" stroke-width="1.4"/>
<polyline points="223.1,557.2 239.2,546.8 255.3,535.1 271.4,523.0 285.5,511.9 295.6,501.9 309.7,488.8 323.8,474.7 336.9,462.6 352.0,447.5 366.1,432.8 376.1,422.3 386.2,417.3 400.3,409.8 416.4,402.6 432.5,397.1 445.0,393.1 462.3,385.7 480.4,379.7 499.9,369.4 523.6,357.8 543.1,349.7 559.8,344.6 576.5,337.6 591.9,332.7 602.3,329.5 621.1,326.7 637.8,324.8 655.9,323.0 670.0,321.9 710.9,319.1 759.9,318.5 787.2,312.2 801.7,309.1 834.5,303.6 852.6,298.2 867.2,295.1 883.5,292.7 907.1,287.8 927.1,286.9 950.0,287.0 995.4,284.0 1040.9,283.2 1091.7,278.2 1122.6,274.9 1137.2,273.6 1149.9,274.2 1173.5,272.7 1204.4,270.5 1228.0,269.6 1250.0,267.6 1257.6,266.0 1285.3,259.0 1317.2,255.0 1346.3,251.0" fill="none" stroke="#6e6e6e" stroke-width="2.1" />
</g>
<defs><clipPath id="cpMain"><rect x="0" y="0" width="1598" height="557"/></clipPath></defs>
<line x1="1349" y1="191.5" x2="1598" y2="191.5" stroke="#666" stroke-width="1" stroke-dasharray="2,2" shape-rendering="crispEdges"/>
<line x1="1349" y1="251.5" x2="1598" y2="251.5" stroke="#666" stroke-width="1" stroke-dasharray="2,2" shape-rendering="crispEdges"/>
<polyline points="2.5,601.5 7.5,604.5 12.5,588.5 17.5,593.5 22.5,594.5 27.5,593.5 32.5,597.5 37.5,596.5 42.5,598.5 47.5,594.5 52.5,596.5 57.5,595.5 62.5,591.5 67.5,594.5 72.5,586.5 77.5,595.5 82.5,597.5 87.5,596.5 92.5,599.5 97.5,593.5 102.5,592.5 107.5,593.5 112.5,592.5 117.5,596.5 122.5,598.5 127.5,595.5 132.5,588.5 137.5,586.5 142.5,583.5 147.5,589.5 152.5,588.5 157.5,593.5 162.5,590.5 167.5,586.5 172.5,591.5 177.5,585.5 182.5,584.5 187.5,585.5 192.5,590.5 197.5,587.5 202.5,584.5 207.5,584.5 212.5,582.5 217.5,584.5 222.5,583.5 227.5,580.5 232.5,592.5 237.5,599.5 242.5,603.5 247.5,601.5 252.5,600.5 257.5,599.5 262.5,607.5 267.5,609.5 272.5,610.5 277.5,611.5 282.5,612.5 287.5,604.5 292.5,586.5 297.5,584.5 302.5,583.5 307.5,583.5 312.5,584.5 317.5,584.5 322.5,586.5 327.5,584.5 332.5,584.5 337.5,583.5 342.5,585.5 347.5,584.5 352.5,581.5 357.5,585.5 362.5,583.5 367.5,582.5 372.5,580.5 377.5,575.5 382.5,578.5 387.5,575.5 392.5,574.5 397.5,573.5 402.5,574.5 407.5,580.5 412.5,576.5 417.5,575.5 422.5,568.5 427.5,570.5 432.5,570.5 437.5,570.5 442.5,568.5 447.5,571.5 452.5,567.5 457.5,579.5 462.5,578.5 467.5,583.5 472.5,579.5 477.5,579.5 482.5,572.5 487.5,571.5 492.5,572.5 497.5,571.5 502.5,581.5 507.5,578.5 512.5,573.5 517.5,569.5 522.5,574.5 527.5,576.5 532.5,579.5 537.5,572.5 542.5,574.5 547.5,590.5 552.5,593.5 557.5,592.5 562.5,593.5 567.5,590.5 572.5,589.5 577.5,592.5 582.5,592.5 587.5,591.5 592.5,590.5 597.5,593.5 602.5,606.5 607.5,602.5 612.5,600.5 617.5,602.5 622.5,601.5 627.5,600.5 632.5,597.5 637.5,587.5 642.5,591.5 647.5,589.5 652.5,595.5 657.5,596.5 662.5,602.5 667.5,601.5 672.5,604.5 677.5,603.5 682.5,603.5 687.5,601.5 692.5,607.5 697.5,607.5 702.5,612.5 707.5,615.5 712.5,616.5 717.5,611.5 722.5,612.5 727.5,622.5 732.5,624.5 737.5,619.5 742.5,621.5 747.5,614.5 752.5,609.5 757.5,602.5 762.5,602.5 767.5,603.5 772.5,602.5 777.5,604.5 782.5,606.5 787.5,602.5 792.5,607.5 797.5,610.5 802.5,608.5 807.5,607.5 812.5,605.5 817.5,603.5 822.5,599.5 827.5,601.5 832.5,604.5 837.5,602.5 842.5,602.5 847.5,602.5 852.5,610.5 857.5,608.5 862.5,609.5 867.5,610.5 872.5,612.5 877.5,616.5 882.5,622.5 887.5,614.5 892.5,612.5 897.5,611.5 902.5,614.5 907.5,617.5 912.5,628.5 917.5,620.5 922.5,616.5 927.5,617.5 932.5,618.5 937.5,618.5 942.5,617.5 947.5,625.5 952.5,623.5 957.5,623.5 962.5,623.5 967.5,624.5 972.5,616.5 977.5,621.5 982.5,621.5 987.5,619.5 992.5,619.5 997.5,620.5 1002.5,621.5 1007.5,624.5 1012.5,616.5 1017.5,611.5 1022.5,608.5 1027.5,607.5 1032.5,607.5 1037.5,596.5 1042.5,590.5 1047.5,589.5 1052.5,590.5 1057.5,589.5 1062.5,584.5 1067.5,578.5 1072.5,578.5 1077.5,578.5 1082.5,577.5 1087.5,581.5 1092.5,576.5 1097.5,587.5 1102.5,587.5 1107.5,586.5 1112.5,584.5 1117.5,583.5 1122.5,581.5 1127.5,583.5 1132.5,594.5 1137.5,602.5 1142.5,606.5 1147.5,603.5 1152.5,605.5 1157.5,599.5 1162.5,585.5 1167.5,575.5 1172.5,585.5 1177.5,584.5 1182.5,584.5 1187.5,583.5 1192.5,582.5 1197.5,577.5 1202.5,590.5 1207.5,595.5 1212.5,595.5 1217.5,590.5 1222.5,586.5 1227.5,589.5 1232.5,594.5 1237.5,595.5 1242.5,594.5 1247.5,589.5 1252.5,586.5 1257.5,586.5 1262.5,577.5 1267.5,575.5 1272.5,579.5 1277.5,582.5 1282.5,588.5 1287.5,586.5 1292.5,584.5 1297.5,582.5 1302.5,584.5 1307.5,585.5 1312.5,580.5 1317.5,575.5 1322.5,579.5 1327.5,585.5 1332.5,586.5 1337.5,585.5 1342.5,586.5 1347.5,589.5" fill="none" stroke="#0000ff" stroke-width="1.0" />
<line x1="1349" y1="589.5" x2="1598" y2="589.5" stroke="#666" stroke-width="1" stroke-dasharray="2,2" shape-rendering="crispEdges"/>
<polyline points="2.5,680.5 7.5,689.5 12.5,676.5 17.5,672.5 22.5,659.5 27.5,664.5 32.5,668.5 37.5,676.5 42.5,682.5 47.5,676.5 52.5,669.5 57.5,662.5 62.5,661.5 67.5,661.5 72.5,657.5 77.5,669.5 82.5,679.5 87.5,693.5 92.5,697.5 97.5,690.5 102.5,674.5 107.5,662.5 112.5,658.5 117.5,670.5 122.5,677.5 127.5,683.5 132.5,672.5 137.5,659.5 142.5,650.5 147.5,656.5 152.5,662.5 157.5,675.5 162.5,679.5 167.5,675.5 172.5,673.5 177.5,668.5 182.5,671.5 187.5,664.5 192.5,671.5 197.5,670.5 202.5,669.5 207.5,664.5 212.5,661.5 217.5,659.5 222.5,657.5 227.5,655.5 232.5,671.5 237.5,685.5 242.5,704.5 247.5,703.5 252.5,700.5 257.5,692.5 262.5,691.5 267.5,696.5 272.5,702.5 277.5,705.5 282.5,701.5 287.5,691.5 292.5,673.5 297.5,657.5 302.5,650.5 307.5,648.5 312.5,648.5 317.5,654.5 322.5,670.5 327.5,682.5 332.5,686.5 337.5,679.5 342.5,679.5 347.5,677.5 352.5,668.5 357.5,668.5 362.5,665.5 367.5,669.5 372.5,657.5 377.5,651.5 382.5,651.5 387.5,655.5 392.5,660.5 397.5,662.5 402.5,667.5 407.5,675.5 412.5,674.5 417.5,669.5 422.5,655.5 427.5,650.5 432.5,646.5 437.5,648.5 442.5,646.5 447.5,653.5 452.5,653.5 457.5,667.5 462.5,670.5 467.5,686.5 472.5,683.5 477.5,680.5 482.5,664.5 487.5,655.5 492.5,648.5 497.5,647.5 502.5,653.5 507.5,657.5 512.5,657.5 517.5,649.5 522.5,646.5 527.5,652.5 532.5,661.5 537.5,660.5 542.5,658.5 547.5,669.5 552.5,686.5 557.5,697.5 562.5,695.5 567.5,689.5 572.5,675.5 577.5,666.5 582.5,660.5 587.5,663.5 592.5,658.5 597.5,662.5 602.5,673.5 607.5,684.5 612.5,684.5 617.5,681.5 622.5,679.5 627.5,674.5 632.5,663.5 637.5,656.5 642.5,658.5 647.5,661.5 652.5,668.5 657.5,677.5 662.5,693.5 667.5,696.5 672.5,699.5 677.5,695.5 682.5,697.5 687.5,689.5 692.5,688.5 697.5,684.5 702.5,694.5 707.5,698.5 712.5,706.5 717.5,701.5 722.5,698.5 727.5,695.5 732.5,696.5 737.5,693.5 742.5,691.5 747.5,685.5 752.5,671.5 757.5,656.5 762.5,646.5 767.5,650.5 772.5,653.5 777.5,660.5 782.5,669.5 787.5,673.5 792.5,680.5 797.5,686.5 802.5,694.5 807.5,695.5 812.5,688.5 817.5,677.5 822.5,662.5 827.5,654.5 832.5,663.5 837.5,675.5 842.5,681.5 847.5,679.5 852.5,685.5 857.5,685.5 862.5,686.5 867.5,680.5 872.5,684.5 877.5,690.5 882.5,696.5 887.5,695.5 892.5,689.5 897.5,680.5 902.5,680.5 907.5,687.5 912.5,695.5 917.5,693.5 922.5,684.5 927.5,677.5 932.5,675.5 937.5,669.5 942.5,668.5 947.5,675.5 952.5,686.5 957.5,692.5 962.5,691.5 967.5,693.5 972.5,680.5 977.5,675.5 982.5,669.5 987.5,676.5 992.5,676.5 997.5,676.5 1002.5,678.5 1007.5,686.5 1012.5,680.5 1017.5,670.5 1022.5,651.5 1027.5,646.5 1032.5,647.5 1037.5,648.5 1042.5,649.5 1047.5,647.5 1052.5,649.5 1057.5,649.5 1062.5,648.5 1067.5,648.5 1072.5,655.5 1077.5,663.5 1082.5,668.5 1087.5,670.5 1092.5,670.5 1097.5,680.5 1102.5,681.5 1107.5,684.5 1112.5,674.5 1117.5,669.5 1122.5,659.5 1127.5,659.5 1132.5,671.5 1137.5,689.5 1142.5,702.5 1147.5,702.5 1152.5,704.5 1157.5,695.5 1162.5,676.5 1167.5,655.5 1172.5,649.5 1177.5,654.5 1182.5,659.5 1187.5,663.5 1192.5,665.5 1197.5,662.5 1202.5,669.5 1207.5,680.5 1212.5,696.5 1217.5,691.5 1222.5,678.5 1227.5,668.5 1232.5,672.5 1237.5,684.5 1242.5,693.5 1247.5,687.5 1252.5,672.5 1257.5,660.5 1262.5,650.5 1267.5,647.5 1272.5,644.5 1277.5,649.5 1282.5,664.5 1287.5,675.5 1292.5,677.5 1297.5,664.5 1302.5,655.5 1307.5,654.5 1312.5,654.5 1317.5,651.5 1322.5,651.5 1327.5,662.5 1332.5,674.5 1337.5,682.5 1342.5,684.5 1347.5,688.5" fill="none" stroke="#0000ff" stroke-width="1.0" />
<polyline points="2.5,678.5 7.5,684.5 12.5,682.5 17.5,673.5 22.5,666.5 27.5,664.5 32.5,664.5 37.5,670.5 42.5,675.5 47.5,678.5 52.5,675.5 57.5,669.5 62.5,664.5 67.5,661.5 72.5,659.5 77.5,662.5 82.5,668.5 87.5,680.5 92.5,690.5 97.5,693.5 102.5,687.5 107.5,675.5 112.5,665.5 117.5,663.5 122.5,669.5 127.5,677.5 132.5,677.5 137.5,671.5 142.5,660.5 147.5,655.5 152.5,656.5 157.5,664.5 162.5,672.5 167.5,676.5 172.5,676.5 177.5,672.5 182.5,671.5 187.5,668.5 192.5,669.5 197.5,668.5 202.5,670.5 207.5,668.5 212.5,665.5 217.5,661.5 222.5,659.5 227.5,657.5 232.5,661.5 237.5,670.5 242.5,687.5 247.5,698.5 252.5,702.5 257.5,698.5 262.5,694.5 267.5,693.5 272.5,696.5 277.5,701.5 282.5,703.5 287.5,699.5 292.5,688.5 297.5,673.5 302.5,660.5 307.5,652.5 312.5,649.5 317.5,650.5 322.5,657.5 327.5,668.5 332.5,679.5 337.5,682.5 342.5,682.5 347.5,678.5 352.5,675.5 357.5,671.5 362.5,667.5 367.5,667.5 372.5,664.5 377.5,659.5 382.5,653.5 387.5,652.5 392.5,656.5 397.5,659.5 402.5,663.5 407.5,668.5 412.5,672.5 417.5,673.5 422.5,666.5 427.5,658.5 432.5,650.5 437.5,648.5 442.5,647.5 447.5,649.5 452.5,650.5 457.5,657.5 462.5,663.5 467.5,674.5 472.5,680.5 477.5,683.5 482.5,676.5 487.5,666.5 492.5,656.5 497.5,650.5 502.5,649.5 507.5,652.5 512.5,656.5 517.5,654.5 522.5,651.5 527.5,649.5 532.5,653.5 537.5,658.5 542.5,660.5 547.5,662.5 552.5,671.5 557.5,684.5 562.5,693.5 567.5,694.5 572.5,686.5 577.5,677.5 582.5,667.5 587.5,663.5 592.5,660.5 597.5,661.5 602.5,664.5 607.5,673.5 612.5,680.5 617.5,683.5 622.5,681.5 627.5,678.5 632.5,672.5 637.5,664.5 642.5,659.5 647.5,658.5 652.5,662.5 657.5,669.5 662.5,679.5 667.5,689.5 672.5,696.5 677.5,697.5 682.5,697.5 687.5,694.5 692.5,691.5 697.5,687.5 702.5,689.5 707.5,692.5 712.5,700.5 717.5,702.5 722.5,701.5 727.5,698.5 732.5,696.5 737.5,695.5 742.5,693.5 747.5,690.5 752.5,682.5 757.5,671.5 762.5,657.5 767.5,651.5 772.5,650.5 777.5,654.5 782.5,661.5 787.5,668.5 792.5,674.5 797.5,680.5 802.5,687.5 807.5,691.5 812.5,692.5 817.5,687.5 822.5,676.5 827.5,665.5 832.5,660.5 837.5,664.5 842.5,673.5 847.5,678.5 852.5,682.5 857.5,683.5 862.5,685.5 867.5,684.5 872.5,683.5 877.5,685.5 882.5,690.5 887.5,694.5 892.5,694.5 897.5,688.5 902.5,683.5 907.5,682.5 912.5,687.5 917.5,691.5 922.5,690.5 927.5,684.5 932.5,678.5 937.5,674.5 942.5,671.5 947.5,671.5 952.5,676.5 957.5,684.5 962.5,690.5 967.5,692.5 972.5,688.5 977.5,683.5 982.5,675.5 987.5,673.5 992.5,674.5 997.5,676.5 1002.5,677.5 1007.5,680.5 1012.5,681.5 1017.5,679.5 1022.5,667.5 1027.5,656.5 1032.5,648.5 1037.5,647.5 1042.5,648.5 1047.5,648.5 1052.5,648.5 1057.5,648.5 1062.5,648.5 1067.5,648.5 1072.5,650.5 1077.5,655.5 1082.5,662.5 1087.5,667.5 1092.5,669.5 1097.5,674.5 1102.5,677.5 1107.5,682.5 1112.5,680.5 1117.5,676.5 1122.5,667.5 1127.5,662.5 1132.5,663.5 1137.5,673.5 1142.5,687.5 1147.5,697.5 1152.5,703.5 1157.5,700.5 1162.5,692.5 1167.5,675.5 1172.5,660.5 1177.5,653.5 1182.5,654.5 1187.5,659.5 1192.5,662.5 1197.5,663.5 1202.5,665.5 1207.5,670.5 1212.5,682.5 1217.5,689.5 1222.5,688.5 1227.5,679.5 1232.5,673.5 1237.5,675.5 1242.5,683.5 1247.5,688.5 1252.5,684.5 1257.5,673.5 1262.5,661.5 1267.5,652.5 1272.5,647.5 1277.5,647.5 1282.5,652.5 1287.5,663.5 1292.5,672.5 1297.5,672.5 1302.5,665.5 1307.5,658.5 1312.5,654.5 1317.5,653.5 1322.5,652.5 1327.5,655.5 1332.5,662.5 1337.5,673.5 1342.5,680.5 1347.5,685.5" fill="none" stroke="#ff0000" stroke-width="1.0" />
<line x1="1349" y1="685.5" x2="1598" y2="685.5" stroke="#666" stroke-width="1" stroke-dasharray="2,2" shape-rendering="crispEdges"/>
<line x1="1349" y1="689.5" x2="1598" y2="689.5" stroke="#666" stroke-width="1" stroke-dasharray="2,2" shape-rendering="crispEdges"/>
<g fill="#0000ff" shape-rendering="crispEdges"><rect x="1" y="764" width="3" height="22"/><rect x="6" y="758" width="3" height="28"/><rect x="11" y="738" width="3" height="48"/><rect x="16" y="738" width="3" height="48"/><rect x="21" y="757" width="3" height="29"/><rect x="26" y="782" width="3" height="4"/><rect x="31" y="779" width="3" height="7"/><rect x="36" y="768" width="3" height="18"/><rect x="41" y="762" width="3" height="24"/><rect x="46" y="746" width="3" height="40"/><rect x="51" y="745" width="3" height="41"/><rect x="56" y="766" width="3" height="20"/><rect x="61" y="776" width="3" height="10"/><rect x="66" y="769" width="3" height="17"/><rect x="71" y="748" width="3" height="38"/><rect x="76" y="739" width="3" height="47"/><rect x="81" y="727" width="3" height="59"/><rect x="86" y="761" width="3" height="25"/><rect x="91" y="776" width="3" height="10"/><rect x="96" y="764" width="3" height="22"/><rect x="101" y="757" width="3" height="29"/><rect x="106" y="736" width="3" height="50"/><rect x="111" y="740" width="3" height="46"/><rect x="116" y="740" width="3" height="46"/><rect x="121" y="770" width="3" height="16"/><rect x="126" y="765" width="3" height="21"/><rect x="131" y="747" width="3" height="39"/><rect x="136" y="742" width="3" height="44"/><rect x="141" y="736" width="3" height="50"/><rect x="146" y="761" width="3" height="25"/><rect x="151" y="775" width="3" height="11"/><rect x="156" y="763" width="3" height="23"/><rect x="161" y="754" width="3" height="32"/><rect x="166" y="746" width="3" height="40"/><rect x="171" y="722" width="3" height="64"/><rect x="176" y="755" width="3" height="31"/><rect x="181" y="783" width="3" height="3"/><rect x="186" y="780" width="3" height="6"/><rect x="191" y="770" width="3" height="16"/><rect x="196" y="764" width="3" height="22"/><rect x="201" y="744" width="3" height="42"/><rect x="206" y="745" width="3" height="41"/><rect x="211" y="765" width="3" height="21"/><rect x="216" y="777" width="3" height="9"/><rect x="221" y="773" width="3" height="13"/><rect x="226" y="752" width="3" height="34"/><rect x="231" y="743" width="3" height="43"/><rect x="236" y="722" width="3" height="64"/><rect x="241" y="755" width="3" height="31"/><rect x="246" y="777" width="3" height="9"/><rect x="251" y="773" width="3" height="13"/><rect x="256" y="759" width="3" height="27"/><rect x="261" y="743" width="3" height="43"/><rect x="266" y="737" width="3" height="49"/><rect x="271" y="764" width="3" height="22"/><rect x="276" y="779" width="3" height="7"/><rect x="281" y="770" width="3" height="16"/><rect x="286" y="757" width="3" height="29"/><rect x="291" y="734" width="3" height="52"/><rect x="296" y="736" width="3" height="50"/><rect x="301" y="763" width="3" height="23"/><rect x="306" y="778" width="3" height="8"/><rect x="311" y="772" width="3" height="14"/><rect x="316" y="764" width="3" height="22"/><rect x="321" y="757" width="3" height="29"/><rect x="326" y="742" width="3" height="44"/><rect x="331" y="772" width="3" height="14"/><rect x="336" y="783" width="3" height="3"/><rect x="341" y="782" width="3" height="4"/><rect x="346" y="771" width="3" height="15"/><rect x="351" y="766" width="3" height="20"/><rect x="356" y="760" width="3" height="26"/><rect x="361" y="761" width="3" height="25"/><rect x="366" y="774" width="3" height="12"/><rect x="371" y="780" width="3" height="6"/><rect x="376" y="767" width="3" height="19"/><rect x="381" y="767" width="3" height="19"/><rect x="386" y="763" width="3" height="23"/><rect x="391" y="758" width="3" height="28"/><rect x="396" y="773" width="3" height="13"/><rect x="401" y="780" width="3" height="6"/><rect x="406" y="764" width="3" height="22"/><rect x="411" y="763" width="3" height="23"/><rect x="416" y="762" width="3" height="24"/><rect x="421" y="758" width="3" height="28"/><rect x="426" y="773" width="3" height="13"/><rect x="431" y="777" width="3" height="9"/><rect x="436" y="774" width="3" height="12"/><rect x="441" y="766" width="3" height="20"/><rect x="446" y="763" width="3" height="23"/><rect x="451" y="758" width="3" height="28"/><rect x="456" y="769" width="3" height="17"/><rect x="461" y="776" width="3" height="10"/><rect x="466" y="772" width="3" height="14"/><rect x="471" y="766" width="3" height="20"/><rect x="476" y="766" width="3" height="20"/><rect x="481" y="755" width="3" height="31"/><rect x="486" y="774" width="3" height="12"/><rect x="491" y="784" width="3" height="2"/><rect x="496" y="780" width="3" height="6"/><rect x="501" y="772" width="3" height="14"/><rect x="506" y="768" width="3" height="18"/><rect x="511" y="767" width="3" height="19"/><rect x="516" y="762" width="3" height="24"/><rect x="521" y="776" width="3" height="10"/><rect x="526" y="778" width="3" height="8"/><rect x="531" y="772" width="3" height="14"/><rect x="536" y="760" width="3" height="26"/><rect x="541" y="753" width="3" height="33"/><rect x="546" y="754" width="3" height="32"/><rect x="551" y="774" width="3" height="12"/><rect x="556" y="777" width="3" height="9"/><rect x="561" y="770" width="3" height="16"/><rect x="566" y="767" width="3" height="19"/><rect x="571" y="759" width="3" height="27"/><rect x="576" y="763" width="3" height="23"/><rect x="581" y="764" width="3" height="22"/><rect x="586" y="780" width="3" height="6"/><rect x="591" y="767" width="3" height="19"/><rect x="596" y="763" width="3" height="23"/><rect x="601" y="752" width="3" height="34"/><rect x="606" y="759" width="3" height="27"/><rect x="611" y="774" width="3" height="12"/><rect x="616" y="777" width="3" height="9"/><rect x="621" y="771" width="3" height="15"/><rect x="626" y="764" width="3" height="22"/><rect x="631" y="762" width="3" height="24"/><rect x="636" y="759" width="3" height="27"/><rect x="641" y="776" width="3" height="10"/><rect x="646" y="784" width="3" height="2"/><rect x="651" y="778" width="3" height="8"/><rect x="656" y="765" width="3" height="21"/><rect x="661" y="761" width="3" height="25"/><rect x="666" y="758" width="3" height="28"/><rect x="671" y="759" width="3" height="27"/><rect x="676" y="776" width="3" height="10"/><rect x="681" y="780" width="3" height="6"/><rect x="686" y="768" width="3" height="18"/><rect x="691" y="756" width="3" height="30"/><rect x="696" y="757" width="3" height="29"/><rect x="701" y="757" width="3" height="29"/><rect x="706" y="768" width="3" height="18"/><rect x="711" y="779" width="3" height="7"/><rect x="716" y="767" width="3" height="19"/><rect x="721" y="761" width="3" height="25"/><rect x="726" y="756" width="3" height="30"/><rect x="731" y="758" width="3" height="28"/><rect x="736" y="773" width="3" height="13"/><rect x="741" y="779" width="3" height="7"/><rect x="746" y="773" width="3" height="13"/><rect x="751" y="766" width="3" height="20"/><rect x="756" y="758" width="3" height="28"/><rect x="761" y="762" width="3" height="24"/><rect x="766" y="773" width="3" height="13"/><rect x="771" y="778" width="3" height="8"/><rect x="776" y="771" width="3" height="15"/><rect x="781" y="766" width="3" height="20"/><rect x="786" y="760" width="3" height="26"/><rect x="791" y="737" width="3" height="49"/><rect x="796" y="758" width="3" height="28"/><rect x="801" y="783" width="3" height="3"/><rect x="806" y="781" width="3" height="5"/><rect x="811" y="766" width="3" height="20"/><rect x="816" y="759" width="3" height="27"/><rect x="821" y="760" width="3" height="26"/><rect x="826" y="755" width="3" height="31"/><rect x="831" y="770" width="3" height="16"/><rect x="836" y="776" width="3" height="10"/><rect x="841" y="766" width="3" height="20"/><rect x="846" y="765" width="3" height="21"/><rect x="851" y="759" width="3" height="27"/><rect x="856" y="753" width="3" height="33"/><rect x="861" y="769" width="3" height="17"/><rect x="866" y="779" width="3" height="7"/><rect x="871" y="764" width="3" height="22"/><rect x="876" y="760" width="3" height="26"/><rect x="881" y="759" width="3" height="27"/><rect x="886" y="746" width="3" height="40"/><rect x="891" y="767" width="3" height="19"/><rect x="896" y="777" width="3" height="9"/><rect x="901" y="767" width="3" height="19"/><rect x="906" y="765" width="3" height="21"/><rect x="911" y="747" width="3" height="39"/><rect x="916" y="742" width="3" height="44"/><rect x="921" y="760" width="3" height="26"/><rect x="926" y="777" width="3" height="9"/><rect x="931" y="769" width="3" height="17"/><rect x="936" y="763" width="3" height="23"/><rect x="941" y="759" width="3" height="27"/><rect x="946" y="731" width="3" height="55"/><rect x="951" y="762" width="3" height="24"/><rect x="956" y="784" width="3" height="2"/><rect x="961" y="781" width="3" height="5"/><rect x="966" y="768" width="3" height="18"/><rect x="971" y="759" width="3" height="27"/><rect x="976" y="757" width="3" height="29"/><rect x="981" y="762" width="3" height="24"/><rect x="986" y="776" width="3" height="10"/><rect x="991" y="777" width="3" height="9"/><rect x="996" y="769" width="3" height="17"/><rect x="1001" y="761" width="3" height="25"/><rect x="1006" y="760" width="3" height="26"/><rect x="1011" y="743" width="3" height="43"/><rect x="1016" y="764" width="3" height="22"/><rect x="1021" y="771" width="3" height="15"/><rect x="1026" y="761" width="3" height="25"/><rect x="1031" y="759" width="3" height="27"/><rect x="1036" y="759" width="3" height="27"/><rect x="1041" y="751" width="3" height="35"/><rect x="1046" y="769" width="3" height="17"/><rect x="1051" y="778" width="3" height="8"/><rect x="1056" y="767" width="3" height="19"/><rect x="1061" y="763" width="3" height="23"/><rect x="1066" y="762" width="3" height="24"/><rect x="1071" y="734" width="3" height="52"/><rect x="1076" y="760" width="3" height="26"/><rect x="1081" y="777" width="3" height="9"/><rect x="1086" y="767" width="3" height="19"/><rect x="1091" y="763" width="3" height="23"/><rect x="1096" y="763" width="3" height="23"/><rect x="1101" y="736" width="3" height="50"/><rect x="1106" y="764" width="3" height="22"/><rect x="1111" y="783" width="3" height="3"/><rect x="1116" y="781" width="3" height="5"/><rect x="1121" y="770" width="3" height="16"/><rect x="1126" y="765" width="3" height="21"/><rect x="1131" y="757" width="3" height="29"/><rect x="1136" y="755" width="3" height="31"/><rect x="1141" y="747" width="3" height="39"/><rect x="1146" y="774" width="3" height="12"/><rect x="1151" y="765" width="3" height="21"/><rect x="1156" y="761" width="3" height="25"/><rect x="1161" y="754" width="3" height="32"/><rect x="1166" y="751" width="3" height="35"/><rect x="1171" y="763" width="3" height="23"/><rect x="1176" y="777" width="3" height="9"/><rect x="1181" y="766" width="3" height="20"/><rect x="1186" y="759" width="3" height="27"/><rect x="1191" y="742" width="3" height="44"/><rect x="1196" y="744" width="3" height="42"/><rect x="1201" y="760" width="3" height="26"/><rect x="1206" y="771" width="3" height="15"/><rect x="1211" y="767" width="3" height="19"/><rect x="1216" y="761" width="3" height="25"/><rect x="1221" y="753" width="3" height="33"/><rect x="1226" y="743" width="3" height="43"/><rect x="1231" y="767" width="3" height="19"/><rect x="1236" y="773" width="3" height="13"/><rect x="1241" y="768" width="3" height="18"/><rect x="1246" y="768" width="3" height="18"/><rect x="1251" y="760" width="3" height="26"/><rect x="1256" y="749" width="3" height="37"/><rect x="1261" y="755" width="3" height="31"/><rect x="1266" y="782" width="3" height="4"/><rect x="1271" y="779" width="3" height="7"/><rect x="1276" y="767" width="3" height="19"/><rect x="1281" y="760" width="3" height="26"/><rect x="1286" y="757" width="3" height="29"/><rect x="1291" y="755" width="3" height="31"/><rect x="1296" y="769" width="3" height="17"/><rect x="1301" y="772" width="3" height="14"/><rect x="1306" y="769" width="3" height="17"/><rect x="1311" y="762" width="3" height="24"/><rect x="1316" y="756" width="3" height="30"/><rect x="1321" y="748" width="3" height="38"/><rect x="1326" y="766" width="3" height="20"/><rect x="1331" y="776" width="3" height="10"/><rect x="1336" y="764" width="3" height="22"/><rect x="1341" y="752" width="3" height="34"/><rect x="1346" y="774" width="3" height="12"/></g>
<line x1="1349" y1="774.5" x2="1598" y2="774.5" stroke="#666" stroke-width="1" stroke-dasharray="2,2" shape-rendering="crispEdges"/>
<g fill="#ff0000" shape-rendering="crispEdges"><rect x="1" y="833" width="3" height="2"/><rect x="6" y="833" width="3" height="2"/><rect x="11" y="831" width="3" height="2"/><rect x="16" y="830" width="3" height="3"/><rect x="21" y="829" width="3" height="4"/><rect x="26" y="829" width="3" height="4"/><rect x="31" y="830" width="3" height="3"/><rect x="36" y="830" width="3" height="3"/><rect x="41" y="831" width="3" height="2"/><rect x="46" y="831" width="3" height="2"/><rect x="51" y="831" width="3" height="2"/><rect x="56" y="831" width="3" height="2"/><rect x="61" y="830" width="3" height="3"/><rect x="66" y="830" width="3" height="3"/><rect x="71" y="828" width="3" height="5"/><rect x="76" y="830" width="3" height="3"/><rect x="81" y="831" width="3" height="2"/><rect x="86" y="832" width="3" height="1"/><rect x="101" y="832" width="3" height="1"/><rect x="106" y="832" width="3" height="1"/><rect x="111" y="831" width="3" height="2"/><rect x="116" y="832" width="3" height="1"/><rect x="131" y="832" width="3" height="1"/><rect x="136" y="830" width="3" height="3"/><rect x="141" y="829" width="3" height="4"/><rect x="146" y="829" width="3" height="4"/><rect x="151" y="829" width="3" height="4"/><rect x="156" y="831" width="3" height="2"/><rect x="161" y="831" width="3" height="2"/><rect x="166" y="830" width="3" height="3"/><rect x="171" y="831" width="3" height="2"/><rect x="176" y="830" width="3" height="3"/><rect x="181" y="830" width="3" height="3"/><rect x="186" y="830" width="3" height="3"/><rect x="191" y="831" width="3" height="2"/><rect x="196" y="831" width="3" height="2"/><rect x="201" y="831" width="3" height="2"/><rect x="206" y="831" width="3" height="2"/><rect x="211" y="830" width="3" height="3"/><rect x="216" y="830" width="3" height="3"/><rect x="221" y="831" width="3" height="2"/><rect x="226" y="831" width="3" height="2"/><rect x="231" y="832" width="3" height="1"/><rect x="236" y="833" width="3" height="2"/><rect x="241" y="833" width="3" height="5"/><rect x="246" y="833" width="3" height="6"/><rect x="251" y="833" width="3" height="7"/><rect x="256" y="833" width="3" height="6"/><rect x="261" y="833" width="3" height="8"/><rect x="266" y="833" width="3" height="9"/><rect x="271" y="833" width="3" height="9"/><rect x="276" y="833" width="3" height="9"/><rect x="281" y="833" width="3" height="9"/><rect x="286" y="833" width="3" height="8"/><rect x="291" y="833" width="3" height="2"/><rect x="296" y="831" width="3" height="2"/><rect x="301" y="828" width="3" height="5"/><rect x="306" y="826" width="3" height="7"/><rect x="311" y="826" width="3" height="7"/><rect x="316" y="826" width="3" height="7"/><rect x="321" y="827" width="3" height="6"/><rect x="326" y="827" width="3" height="6"/><rect x="331" y="828" width="3" height="5"/><rect x="336" y="828" width="3" height="5"/><rect x="341" y="829" width="3" height="4"/><rect x="346" y="830" width="3" height="3"/><rect x="351" y="830" width="3" height="3"/><rect x="356" y="830" width="3" height="3"/><rect x="361" y="831" width="3" height="2"/><rect x="366" y="831" width="3" height="2"/><rect x="371" y="831" width="3" height="2"/><rect x="376" y="830" width="3" height="3"/><rect x="381" y="830" width="3" height="3"/><rect x="386" y="830" width="3" height="3"/><rect x="391" y="829" width="3" height="4"/><rect x="396" y="829" width="3" height="4"/><rect x="401" y="830" width="3" height="3"/><rect x="406" y="831" width="3" height="2"/><rect x="411" y="831" width="3" height="2"/><rect x="416" y="831" width="3" height="2"/><rect x="421" y="830" width="3" height="3"/><rect x="426" y="829" width="3" height="4"/><rect x="431" y="829" width="3" height="4"/><rect x="436" y="830" width="3" height="3"/><rect x="441" y="830" width="3" height="3"/><rect x="446" y="830" width="3" height="3"/><rect x="451" y="830" width="3" height="3"/><rect x="456" y="832" width="3" height="1"/><rect x="466" y="833" width="3" height="1"/><rect x="471" y="833" width="3" height="1"/><rect x="476" y="833" width="3" height="1"/><rect x="486" y="832" width="3" height="1"/><rect x="491" y="832" width="3" height="1"/><rect x="496" y="832" width="3" height="1"/><rect x="511" y="832" width="3" height="1"/><rect x="516" y="830" width="3" height="3"/><rect x="521" y="830" width="3" height="3"/><rect x="526" y="831" width="3" height="2"/><rect x="531" y="832" width="3" height="1"/><rect x="536" y="831" width="3" height="2"/><rect x="541" y="831" width="3" height="2"/><rect x="546" y="833" width="3" height="1"/><rect x="551" y="833" width="3" height="3"/><rect x="556" y="833" width="3" height="5"/><rect x="561" y="833" width="3" height="6"/><rect x="566" y="833" width="3" height="6"/><rect x="571" y="833" width="3" height="6"/><rect x="576" y="833" width="3" height="6"/><rect x="581" y="833" width="3" height="6"/><rect x="586" y="833" width="3" height="6"/><rect x="591" y="833" width="3" height="5"/><rect x="596" y="833" width="3" height="5"/><rect x="601" y="833" width="3" height="7"/><rect x="606" y="833" width="3" height="8"/><rect x="611" y="833" width="3" height="8"/><rect x="616" y="833" width="3" height="8"/><rect x="621" y="833" width="3" height="7"/><rect x="626" y="833" width="3" height="6"/><rect x="631" y="833" width="3" height="5"/><rect x="636" y="833" width="3" height="2"/><rect x="641" y="833" width="3" height="1"/><rect x="661" y="833" width="3" height="2"/><rect x="666" y="833" width="3" height="2"/><rect x="671" y="833" width="3" height="3"/><rect x="676" y="833" width="3" height="4"/><rect x="681" y="833" width="3" height="4"/><rect x="686" y="833" width="3" height="3"/><rect x="691" y="833" width="3" height="4"/><rect x="696" y="833" width="3" height="4"/><rect x="701" y="833" width="3" height="5"/><rect x="706" y="833" width="3" height="6"/><rect x="711" y="833" width="3" height="6"/><rect x="716" y="833" width="3" height="6"/><rect x="721" y="833" width="3" height="5"/><rect x="726" y="833" width="3" height="7"/><rect x="731" y="833" width="3" height="9"/><rect x="736" y="833" width="3" height="9"/><rect x="741" y="833" width="3" height="8"/><rect x="746" y="833" width="3" height="7"/><rect x="751" y="833" width="3" height="4"/><rect x="756" y="833" width="3" height="1"/><rect x="761" y="832" width="3" height="1"/><rect x="766" y="831" width="3" height="2"/><rect x="771" y="830" width="3" height="3"/><rect x="776" y="830" width="3" height="3"/><rect x="781" y="830" width="3" height="3"/><rect x="786" y="829" width="3" height="4"/><rect x="791" y="830" width="3" height="3"/><rect x="796" y="831" width="3" height="2"/><rect x="801" y="831" width="3" height="2"/><rect x="806" y="831" width="3" height="2"/><rect x="811" y="831" width="3" height="2"/><rect x="816" y="831" width="3" height="2"/><rect x="821" y="830" width="3" height="3"/><rect x="826" y="830" width="3" height="3"/><rect x="831" y="830" width="3" height="3"/><rect x="836" y="830" width="3" height="3"/><rect x="841" y="830" width="3" height="3"/><rect x="846" y="830" width="3" height="3"/><rect x="851" y="832" width="3" height="1"/><rect x="856" y="832" width="3" height="1"/><rect x="876" y="833" width="3" height="1"/><rect x="881" y="833" width="3" height="3"/><rect x="886" y="833" width="3" height="3"/><rect x="891" y="833" width="3" height="2"/><rect x="896" y="833" width="3" height="2"/><rect x="901" y="833" width="3" height="2"/><rect x="906" y="833" width="3" height="2"/><rect x="911" y="833" width="3" height="5"/><rect x="916" y="833" width="3" height="6"/><rect x="921" y="833" width="3" height="5"/><rect x="926" y="833" width="3" height="5"/><rect x="931" y="833" width="3" height="4"/><rect x="936" y="833" width="3" height="4"/><rect x="941" y="833" width="3" height="3"/><rect x="946" y="833" width="3" height="4"/><rect x="951" y="833" width="3" height="5"/><rect x="956" y="833" width="3" height="4"/><rect x="961" y="833" width="3" height="4"/><rect x="966" y="833" width="3" height="3"/><rect x="971" y="833" width="3" height="2"/><rect x="976" y="833" width="3" height="2"/><rect x="981" y="833" width="3" height="1"/><rect x="986" y="833" width="3" height="1"/><rect x="1011" y="832" width="3" height="1"/><rect x="1016" y="831" width="3" height="2"/><rect x="1021" y="830" width="3" height="3"/><rect x="1026" y="829" width="3" height="4"/><rect x="1031" y="828" width="3" height="5"/><rect x="1036" y="827" width="3" height="6"/><rect x="1041" y="825" width="3" height="8"/><rect x="1046" y="824" width="3" height="9"/><rect x="1051" y="824" width="3" height="9"/><rect x="1056" y="824" width="3" height="9"/><rect x="1061" y="824" width="3" height="9"/><rect x="1066" y="823" width="3" height="10"/><rect x="1071" y="823" width="3" height="10"/><rect x="1076" y="823" width="3" height="10"/><rect x="1081" y="823" width="3" height="10"/><rect x="1086" y="825" width="3" height="8"/><rect x="1091" y="825" width="3" height="8"/><rect x="1096" y="827" width="3" height="6"/><rect x="1101" y="828" width="3" height="5"/><rect x="1106" y="829" width="3" height="4"/><rect x="1111" y="830" width="3" height="3"/><rect x="1116" y="830" width="3" height="3"/><rect x="1121" y="831" width="3" height="2"/><rect x="1126" y="831" width="3" height="2"/><rect x="1136" y="833" width="3" height="2"/><rect x="1141" y="833" width="3" height="4"/><rect x="1146" y="833" width="3" height="4"/><rect x="1151" y="833" width="3" height="5"/><rect x="1156" y="833" width="3" height="4"/><rect x="1161" y="833" width="3" height="2"/><rect x="1166" y="830" width="3" height="3"/><rect x="1171" y="829" width="3" height="4"/><rect x="1176" y="829" width="3" height="4"/><rect x="1181" y="828" width="3" height="5"/><rect x="1186" y="829" width="3" height="4"/><rect x="1191" y="829" width="3" height="4"/><rect x="1196" y="828" width="3" height="5"/><rect x="1201" y="830" width="3" height="3"/><rect x="1206" y="832" width="3" height="1"/><rect x="1211" y="833" width="3" height="1"/><rect x="1216" y="833" width="3" height="1"/><rect x="1231" y="833" width="3" height="1"/><rect x="1236" y="833" width="3" height="2"/><rect x="1241" y="833" width="3" height="2"/><rect x="1246" y="833" width="3" height="1"/><rect x="1261" y="830" width="3" height="3"/><rect x="1266" y="828" width="3" height="5"/><rect x="1271" y="827" width="3" height="6"/><rect x="1276" y="828" width="3" height="5"/><rect x="1281" y="830" width="3" height="3"/><rect x="1286" y="831" width="3" height="2"/><rect x="1291" y="831" width="3" height="2"/><rect x="1296" y="831" width="3" height="2"/><rect x="1301" y="832" width="3" height="1"/><rect x="1306" y="832" width="3" height="1"/><rect x="1311" y="832" width="3" height="1"/><rect x="1316" y="830" width="3" height="3"/><rect x="1321" y="830" width="3" height="3"/><rect x="1326" y="831" width="3" height="2"/><rect x="1331" y="832" width="3" height="1"/><rect x="1341" y="833" width="3" height="1"/><rect x="1346" y="833" width="3" height="2"/></g>
<polyline points="2.5,841.5 7.5,841.5 12.5,841.5 17.5,840.5 22.5,839.5 27.5,838.5 32.5,837.5 37.5,836.5 42.5,836.5 47.5,835.5 52.5,835.5 57.5,834.5 62.5,834.5 67.5,833.5 72.5,832.5 77.5,831.5 82.5,831.5 87.5,830.5 92.5,831.5 97.5,830.5 102.5,830.5 107.5,830.5 112.5,830.5 117.5,829.5 122.5,829.5 127.5,830.5 132.5,829.5 137.5,828.5 142.5,827.5 147.5,826.5 152.5,825.5 157.5,825.5 162.5,824.5 167.5,824.5 172.5,823.5 177.5,823.5 182.5,822.5 187.5,821.5 192.5,820.5 197.5,820.5 202.5,819.5 207.5,819.5 212.5,818.5 217.5,817.5 222.5,817.5 227.5,816.5 232.5,816.5 237.5,817.5 242.5,818.5 247.5,819.5 252.5,821.5 257.5,823.5 262.5,825.5 267.5,827.5 272.5,829.5 277.5,831.5 282.5,834.5 287.5,836.5 292.5,836.5 297.5,836.5 302.5,834.5 307.5,833.5 312.5,831.5 317.5,829.5 322.5,827.5 327.5,826.5 332.5,825.5 337.5,823.5 342.5,822.5 347.5,822.5 352.5,821.5 357.5,820.5 362.5,820.5 367.5,819.5 372.5,819.5 377.5,818.5 382.5,817.5 387.5,816.5 392.5,815.5 397.5,814.5 402.5,814.5 407.5,813.5 412.5,813.5 417.5,812.5 422.5,811.5 427.5,810.5 432.5,809.5 437.5,809.5 442.5,808.5 447.5,807.5 452.5,806.5 457.5,806.5 462.5,806.5 467.5,806.5 472.5,806.5 477.5,807.5 482.5,807.5 487.5,807.5 492.5,806.5 497.5,806.5 502.5,806.5 507.5,806.5 512.5,806.5 517.5,805.5 522.5,804.5 527.5,804.5 532.5,804.5 537.5,803.5 542.5,802.5 547.5,803.5 552.5,803.5 557.5,805.5 562.5,806.5 567.5,808.5 572.5,809.5 577.5,811.5 582.5,812.5 587.5,814.5 592.5,815.5 597.5,816.5 602.5,818.5 607.5,820.5 612.5,822.5 617.5,824.5 622.5,826.5 627.5,827.5 632.5,828.5 637.5,829.5 642.5,829.5 647.5,829.5 652.5,829.5 657.5,829.5 662.5,830.5 667.5,830.5 672.5,831.5 677.5,832.5 682.5,833.5 687.5,834.5 692.5,835.5 697.5,836.5 702.5,837.5 707.5,838.5 712.5,840.5 717.5,841.5 722.5,843.5 727.5,845.5 732.5,847.5 737.5,849.5 742.5,851.5 747.5,853.5 752.5,854.5 757.5,854.5 762.5,854.5 767.5,853.5 772.5,852.5 777.5,852.5 782.5,851.5 787.5,850.5 792.5,849.5 797.5,849.5 802.5,848.5 807.5,848.5 812.5,848.5 817.5,847.5 822.5,846.5 827.5,845.5 832.5,845.5 837.5,844.5 842.5,843.5 847.5,843.5 852.5,842.5 857.5,842.5 862.5,842.5 867.5,842.5 872.5,842.5 877.5,842.5 882.5,843.5 887.5,844.5 892.5,844.5 897.5,845.5 902.5,845.5 907.5,846.5 912.5,847.5 917.5,848.5 922.5,849.5 927.5,851.5 932.5,852.5 937.5,853.5 942.5,853.5 947.5,854.5 952.5,856.5 957.5,857.5 962.5,858.5 967.5,858.5 972.5,859.5 977.5,859.5 982.5,859.5 987.5,860.5 992.5,860.5 997.5,860.5 1002.5,860.5 1007.5,859.5 1012.5,859.5 1017.5,859.5 1022.5,858.5 1027.5,857.5 1032.5,856.5 1037.5,854.5 1042.5,852.5 1047.5,850.5 1052.5,848.5 1057.5,846.5 1062.5,843.5 1067.5,841.5 1072.5,838.5 1077.5,836.5 1082.5,833.5 1087.5,831.5 1092.5,829.5 1097.5,828.5 1102.5,826.5 1107.5,825.5 1112.5,825.5 1117.5,824.5 1122.5,823.5 1127.5,823.5 1132.5,823.5 1137.5,823.5 1142.5,824.5 1147.5,825.5 1152.5,826.5 1157.5,827.5 1162.5,828.5 1167.5,827.5 1172.5,826.5 1177.5,825.5 1182.5,824.5 1187.5,823.5 1192.5,822.5 1197.5,820.5 1202.5,820.5 1207.5,819.5 1212.5,820.5 1217.5,820.5 1222.5,820.5 1227.5,820.5 1232.5,820.5 1237.5,821.5 1242.5,821.5 1247.5,821.5 1252.5,822.5 1257.5,821.5 1262.5,821.5 1267.5,819.5 1272.5,818.5 1277.5,817.5 1282.5,816.5 1287.5,816.5 1292.5,815.5 1297.5,815.5 1302.5,814.5 1307.5,814.5 1312.5,814.5 1317.5,813.5 1322.5,812.5 1327.5,812.5 1332.5,811.5 1337.5,811.5 1342.5,812.5 1347.5,812.5" fill="none" stroke="#00ee00" stroke-width="1.0" stroke-dasharray="5.5,4.5" />
<polyline points="2.5,842.5 7.5,844.5 12.5,839.5 17.5,837.5 22.5,835.5 27.5,834.5 32.5,834.5 37.5,834.5 42.5,834.5 47.5,833.5 52.5,833.5 57.5,833.5 62.5,831.5 67.5,831.5 72.5,827.5 77.5,828.5 82.5,829.5 87.5,830.5 92.5,831.5 97.5,830.5 102.5,829.5 107.5,829.5 112.5,828.5 117.5,829.5 122.5,830.5 127.5,830.5 132.5,828.5 137.5,825.5 142.5,823.5 147.5,822.5 152.5,822.5 157.5,822.5 162.5,822.5 167.5,821.5 172.5,821.5 177.5,820.5 182.5,818.5 187.5,818.5 192.5,818.5 197.5,818.5 202.5,817.5 207.5,816.5 212.5,815.5 217.5,815.5 222.5,815.5 227.5,814.5 232.5,815.5 237.5,819.5 242.5,823.5 247.5,826.5 252.5,828.5 257.5,829.5 262.5,832.5 267.5,835.5 272.5,838.5 277.5,841.5 282.5,843.5 287.5,843.5 292.5,838.5 297.5,834.5 302.5,829.5 307.5,826.5 312.5,823.5 317.5,822.5 322.5,821.5 327.5,820.5 332.5,819.5 337.5,818.5 342.5,818.5 347.5,818.5 352.5,817.5 357.5,817.5 362.5,817.5 367.5,817.5 372.5,817.5 377.5,815.5 382.5,814.5 387.5,813.5 392.5,812.5 397.5,811.5 402.5,810.5 407.5,811.5 412.5,811.5 417.5,811.5 422.5,808.5 427.5,806.5 432.5,806.5 437.5,805.5 442.5,805.5 447.5,805.5 452.5,804.5 457.5,805.5 462.5,805.5 467.5,807.5 472.5,808.5 477.5,808.5 482.5,807.5 487.5,806.5 492.5,805.5 497.5,804.5 502.5,806.5 507.5,806.5 512.5,805.5 517.5,802.5 522.5,802.5 527.5,802.5 532.5,802.5 537.5,801.5 542.5,800.5 547.5,803.5 552.5,807.5 557.5,810.5 562.5,812.5 567.5,814.5 572.5,815.5 577.5,817.5 582.5,818.5 587.5,819.5 592.5,820.5 597.5,821.5 602.5,825.5 607.5,828.5 612.5,830.5 617.5,832.5 622.5,833.5 627.5,833.5 632.5,833.5 637.5,831.5 642.5,830.5 647.5,829.5 652.5,829.5 657.5,829.5 662.5,831.5 667.5,833.5 672.5,834.5 677.5,836.5 682.5,836.5 687.5,837.5 692.5,838.5 697.5,839.5 702.5,842.5 707.5,844.5 712.5,846.5 717.5,847.5 722.5,848.5 727.5,852.5 732.5,855.5 737.5,857.5 742.5,859.5 747.5,859.5 752.5,858.5 757.5,855.5 762.5,853.5 767.5,851.5 772.5,849.5 777.5,848.5 782.5,848.5 787.5,846.5 792.5,846.5 797.5,847.5 802.5,847.5 807.5,846.5 812.5,846.5 817.5,845.5 822.5,843.5 827.5,842.5 832.5,842.5 837.5,841.5 842.5,841.5 847.5,840.5 852.5,841.5 857.5,841.5 862.5,842.5 867.5,842.5 872.5,842.5 877.5,843.5 882.5,846.5 887.5,846.5 892.5,846.5 897.5,846.5 902.5,847.5 907.5,848.5 912.5,852.5 917.5,854.5 922.5,855.5 927.5,856.5 932.5,856.5 937.5,856.5 942.5,856.5 947.5,859.5 952.5,860.5 957.5,861.5 962.5,861.5 967.5,861.5 972.5,860.5 977.5,861.5 982.5,861.5 987.5,860.5 992.5,860.5 997.5,859.5 1002.5,859.5 1007.5,859.5 1012.5,858.5 1017.5,857.5 1022.5,855.5 1027.5,853.5 1032.5,851.5 1037.5,848.5 1042.5,844.5 1047.5,841.5 1052.5,839.5 1057.5,837.5 1062.5,834.5 1067.5,830.5 1072.5,828.5 1077.5,825.5 1082.5,824.5 1087.5,823.5 1092.5,821.5 1097.5,821.5 1102.5,821.5 1107.5,822.5 1112.5,821.5 1117.5,821.5 1122.5,821.5 1127.5,821.5 1132.5,822.5 1137.5,825.5 1142.5,828.5 1147.5,829.5 1152.5,831.5 1157.5,832.5 1162.5,829.5 1167.5,824.5 1172.5,823.5 1177.5,821.5 1182.5,819.5 1187.5,818.5 1192.5,817.5 1197.5,815.5 1202.5,816.5 1207.5,819.5 1212.5,820.5 1217.5,821.5 1222.5,820.5 1227.5,820.5 1232.5,821.5 1237.5,822.5 1242.5,823.5 1247.5,823.5 1252.5,822.5 1257.5,821.5 1262.5,818.5 1267.5,814.5 1272.5,812.5 1277.5,812.5 1282.5,813.5 1287.5,813.5 1292.5,813.5 1297.5,813.5 1302.5,813.5 1307.5,813.5 1312.5,812.5 1317.5,810.5 1322.5,809.5 1327.5,810.5 1332.5,811.5 1337.5,811.5 1342.5,812.5 1347.5,814.5" fill="none" stroke="#0000ff" stroke-width="1.0" />
<line x1="1349" y1="812.5" x2="1598" y2="812.5" stroke="#666" stroke-width="1" stroke-dasharray="2,2" shape-rendering="crispEdges"/>
<line x1="1349" y1="814.5" x2="1598" y2="814.5" stroke="#666" stroke-width="1" stroke-dasharray="2,2" shape-rendering="crispEdges"/>
<line x1="1349" y1="835.5" x2="1598" y2="835.5" stroke="#666" stroke-width="1" stroke-dasharray="2,2" shape-rendering="crispEdges"/>
<g stroke="#000" stroke-width="1" shape-rendering="crispEdges"><line x1="1598" y1="22.5" x2="1604" y2="22.5"/><line x1="1598" y1="47.5" x2="1604" y2="47.5"/><line x1="1598" y1="72.5" x2="1604" y2="72.5"/><line x1="1598" y1="97.5" x2="1604" y2="97.5"/><line x1="1598" y1="122.5" x2="1604" y2="122.5"/><line x1="1598" y1="146.5" x2="1604" y2="146.5"/><line x1="1598" y1="171.5" x2="1604" y2="171.5"/><line x1="1598" y1="196.5" x2="1604" y2="196.5"/><line x1="1598" y1="221.5" x2="1604" y2="221.5"/><line x1="1598" y1="246.5" x2="1604" y2="246.5"/><line x1="1598" y1="270.5" x2="1604" y2="270.5"/><line x1="1598" y1="295.5" x2="1604" y2="295.5"/><line x1="1598" y1="320.5" x2="1604" y2="320.5"/><line x1="1598" y1="345.5" x2="1604" y2="345.5"/><line x1="1598" y1="369.5" x2="1604" y2="369.5"/><line x1="1598" y1="394.5" x2="1604" y2="394.5"/><line x1="1598" y1="419.5" x2="1604" y2="419.5"/><line x1="1598" y1="444.5" x2="1604" y2="444.5"/><line x1="1598" y1="469.5" x2="1604" y2="469.5"/><line x1="1598" y1="493.5" x2="1604" y2="493.5"/><line x1="1598" y1="518.5" x2="1604" y2="518.5"/><line x1="1598" y1="543.5" x2="1604" y2="543.5"/><line x1="1599" y1="576.5" x2="1603" y2="576.5"/><line x1="1599" y1="606.5" x2="1603" y2="606.5"/><line x1="1599" y1="654.5" x2="1603" y2="654.5"/><line x1="1599" y1="732.5" x2="1603" y2="732.5"/><line x1="1599" y1="762.5" x2="1603" y2="762.5"/><line x1="1599" y1="840.5" x2="1603" y2="840.5"/></g>
<g stroke="#000" stroke-width="1" shape-rendering="crispEdges"><line x1="0" y1="882.5" x2="1598" y2="882.5"/><line x1="35.5" y1="870" x2="35.5" y2="882"/><line x1="190.5" y1="870" x2="190.5" y2="882"/><line x1="345.5" y1="870" x2="345.5" y2="882"/><line x1="500.5" y1="870" x2="500.5" y2="882"/><line x1="655.5" y1="870" x2="655.5" y2="882"/><line x1="810.5" y1="870" x2="810.5" y2="882"/><line x1="965.5" y1="870" x2="965.5" y2="882"/><line x1="1120.5" y1="870" x2="1120.5" y2="882"/><line x1="1275.5" y1="870" x2="1275.5" y2="882"/><line x1="1430.5" y1="870" x2="1430.5" y2="882"/><line x1="1585.5" y1="870" x2="1585.5" y2="882"/><line x1="190.5" y1="882" x2="190.5" y2="894"/><line x1="900.5" y1="882" x2="900.5" y2="894"/><line x1="1580.5" y1="882" x2="1580.5" y2="894"/><line x1="1597.5" y1="870" x2="1597.5" y2="894"/></g>
<path d="M1562.5,1 L1573.5,1 L1568,6.5 Z" fill="#444"/>
<g stroke="#dcdcdc" stroke-width="1" fill="none"><rect x="5.5" y="563.5" width="10" height="10"/><path d="M7.5,565.5 L13.5,571.5 M13.5,565.5 L7.5,571.5" stroke-width="0.8"/></g>
<g stroke="#dcdcdc" stroke-width="1" fill="none"><rect x="5.5" y="641.5" width="10" height="10"/><path d="M7.5,643.5 L13.5,649.5 M13.5,643.5 L7.5,649.5" stroke-width="0.8"/></g>
<g stroke="#dcdcdc" stroke-width="1" fill="none"><rect x="5.5" y="719.5" width="10" height="10"/><path d="M7.5,721.5 L13.5,727.5 M13.5,721.5 L7.5,727.5" stroke-width="0.8"/></g>
<g stroke="#dcdcdc" stroke-width="1" fill="none"><rect x="5.5" y="797.5" width="10" height="10"/><path d="M7.5,799.5 L13.5,805.5 M13.5,799.5 L7.5,805.5" stroke-width="0.8"/></g>
<rect x="61" y="569" width="13" height="2" fill="#0000ff"/>
<rect x="61" y="725" width="13" height="2" fill="#0000ff"/>
</svg>
<div id="txt">
<div class="t " style="left:1609.5px;top:18px;color:#000;">0.8720</div>
<div class="t " style="left:1609.5px;top:43px;color:#000;">0.8700</div>
<div class="t " style="left:1609.5px;top:68px;color:#000;">0.8680</div>
<div class="t " style="left:1609.5px;top:93px;color:#000;">0.8660</div>
<div class="t " style="left:1609.5px;top:118px;color:#000;">0.8640</div>
<div class="t " style="left:1609.5px;top:142px;color:#000;">0.8620</div>
<div class="t " style="left:1609.5px;top:167px;color:#000;">0.8600</div>
<div class="t " style="left:1609.5px;top:192px;color:#000;">0.8580</div>
<div class="t " style="left:1609.5px;top:217px;color:#000;">0.8560</div>
<div class="t " style="left:1609.5px;top:242px;color:#000;">0.8540</div>
<div class="t " style="left:1609.5px;top:266px;color:#000;">0.8520</div>
<div class="t " style="left:1609.5px;top:291px;color:#000;">0.8500</div>
<div class="t " style="left:1609.5px;top:316px;color:#000;">0.8480</div>
<div class="t " style="left:1609.5px;top:341px;color:#000;">0.8460</div>
<div class="t " style="left:1609.5px;top:365px;color:#000;">0.8440</div>
<div class="t " style="left:1609.5px;top:390px;color:#000;">0.8420</div>
<div class="t " style="left:1609.5px;top:415px;color:#000;">0.8400</div>
<div class="t " style="left:1609.5px;top:440px;color:#000;">0.8380</div>
<div class="t " style="left:1609.5px;top:465px;color:#000;">0.8360</div>
<div class="t " style="left:1609.5px;top:489px;color:#000;">0.8340</div>
<div class="t " style="left:1609.5px;top:514px;color:#000;">0.8320</div>
<div class="t " style="left:1609.5px;top:539px;color:#000;">0.8300</div>
<div class="t " style="left:1613px;top:572px;color:#000;">70.01</div>
<div class="t " style="left:1613px;top:602px;color:#000;">40.35</div>
<div class="t " style="left:1613px;top:650px;color:#000;">79.69</div>
<div class="t " style="left:1609.5px;top:728px;color:#000;">134577</div>
<div class="t " style="left:1612px;top:758px;color:#000;">60479</div>
<div class="t " style="left:1603.5px;top:836px;color:#000;">-0.0000040</div>
<div class="t " style="right:57px;top:32px;color:#555;">61.80 % (0.87037)</div>
<div class="t " style="right:57px;top:452px;color:#555;">50.00 % (0.83645)</div>
<div class="t " style="left:20.5px;top:566px;color:#222;letter-spacing:0px;">RSI: (14)</div>
<div class="t " style="left:20.5px;top:644px;color:#222;letter-spacing:-0.05px;">STOCH: (5, 3, SMA, 3, SMA) (<span style="color:#00f">Slow %K,</span> <span style="color:#f00">Slow %D</span>)</div>
<div class="t " style="left:20.5px;top:722px;color:#222;letter-spacing:-0.3px;">VOLUME</div>
<div class="t " style="left:20px;top:800px;color:#222;letter-spacing:-0.05px;">MACD: (12, 26, 9) (<span style="color:#00f">MACD,</span> <span style="color:#00f000">MACD Signal,</span> <span style="color:#f00">MACD Hist</span>)</div>
<div class="t " style="left:4.5px;top:872px;color:#000;">30</div>
<div class="t " style="left:39.5px;top:872px;color:#000;">31 week</div>
<div class="t " style="left:194.5px;top:872px;color:#000;">32 week</div>
<div class="t " style="left:349.5px;top:872px;color:#000;">33 week</div>
<div class="t " style="left:504.5px;top:872px;color:#000;">34 week</div>
<div class="t " style="left:659.5px;top:872px;color:#000;">35 week</div>
<div class="t " style="left:814.5px;top:872px;color:#000;">36 week</div>
<div class="t " style="left:969.5px;top:872px;color:#000;">37 week</div>
<div class="t " style="left:1124.5px;top:872px;color:#000;">38 week</div>
<div class="t " style="left:1279.5px;top:872px;color:#000;">39 week</div>
<div class="t " style="left:1434.5px;top:872px;color:#000;">40 week</div>
<div class="t " style="left:-5px;width:200px;text-align:center;top:884px;color:#000;">Jul 2016</div>
<div class="t " style="left:445px;width:200px;text-align:center;top:884px;color:#000;">Aug 2016</div>
<div class="t " style="left:1140px;width:200px;text-align:center;top:884px;color:#000;">Sep 2016</div>
<div class="t " style="left:1582px;top:884px;color:#000;">Oct</div>
<div class="b" style="top:245.0px;background:#808080;color:#3c3c3c;border:1px solid #000;">0.85353</div>
<div class="b" style="top:185.0px;background:#7f9f1f;color:#f0f0e0;border:1px solid #b9c98f;">0.85839</div>
<div class="b" style="top:683.0px;background:#0000ff;color:#fff;border:1px solid #000;">29.77427</div>
<div class="b" style="top:679.0px;background:#ff0000;color:#fff;border:1px solid #000;">34.04848</div>
<div class="b" style="top:583.0px;background:#0000ff;color:#fff;border:1px solid #000;">57.47554</div>
<div class="b" style="top:768.0px;background:#0000ff;color:#fff;border:1px solid #000;">29669.64</div>
<div class="b" style="top:808.0px;background:#0000ff;color:#fff;border:1px solid #000;">0.0022698</div>
<div class="b" style="top:806.0px;background:#00ff00;color:#000;border:1px solid #000;">0.0024875</div>
<div class="b" style="top:829.0px;background:#ff0000;color:#fff;border:1px solid #000;">-0.0002177</div>
</div>
</body></html>
